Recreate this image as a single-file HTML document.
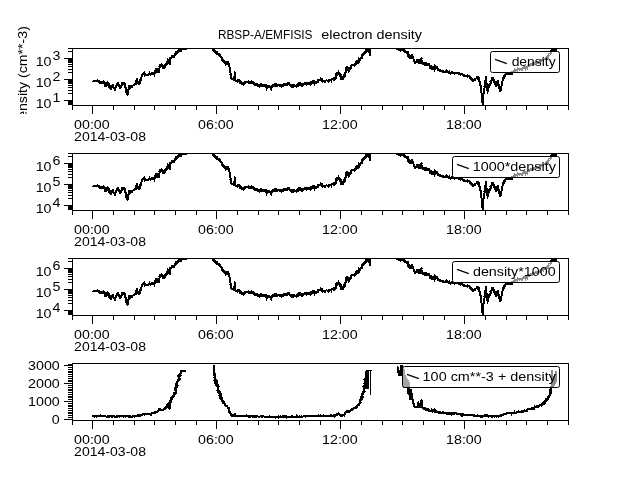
<!DOCTYPE html>
<html><head><meta charset="utf-8"><style>html,body{margin:0;padding:0;background:#fff;width:640px;height:480px;overflow:hidden}svg{display:block;will-change:transform}</style></head>
<body>
<svg width="640" height="480" viewBox="0 0 640 480" shape-rendering="crispEdges">
<rect width="640" height="480" fill="#fff"/>
<defs><clipPath id="c0"><rect x="72" y="48" width="497" height="58"/></clipPath><clipPath id="c1"><rect x="72" y="153" width="497" height="58"/></clipPath><clipPath id="c2"><rect x="72" y="258" width="497" height="58"/></clipPath><clipPath id="c3"><rect x="72" y="363" width="497" height="58"/></clipPath><clipPath id="cl"><rect x="0" y="0" width="60" height="114"/></clipPath></defs>
<text transform="translate(217.95,38.75) scale(0.953,1)" font-family="Liberation Sans, sans-serif" font-size="12.4" text-anchor="start" xml:space="preserve" >RBSP-A/EMFISIS</text>
<text transform="translate(321.32,38.75) scale(1.161,1)" font-family="Liberation Sans, sans-serif" font-size="12.4" text-anchor="start" xml:space="preserve" >electron density</text>
<g clip-path="url(#cl)"><text transform="translate(27.0,126.74) rotate(-90) scale(1.142,1)" font-family="Liberation Sans, sans-serif" font-size="12.4" xml:space="preserve">density (cm**-3)</text></g>
<g clip-path="url(#c0)"><path d="M97.0,80.9v-1.5M103.7,82.7v-2.3M113.0,84.7v2.5M114.2,87.7v2.0M116.5,85.0v2.1M124.8,83.5v2.0M125.7,88.9v2.6M126.1,90.6v-2.7M129.0,87.5v2.4M135.7,82.4v-1.9M136.4,80.6v-2.4M137.2,81.0v-2.9M137.6,82.0v-2.5M138.5,82.9v2.5M139.4,83.5v-2.1M142.6,73.8v3.3M144.0,74.2v-2.8M144.6,73.9v2.8M149.4,73.8v-2.5M154.8,73.5v3.2M164.1,67.6v-3.4M167.2,61.3v-3.0M169.8,59.4v2.7M174.7,55.7v2.6M181.8,48.5v3.1M183.5,48.9v-2.2" stroke="#000" stroke-width="1" fill="none" shape-rendering="crispEdges"/><polyline points="92.40,80.90 92.86,81.07 93.32,81.03 93.78,80.86 94.24,80.78 94.70,80.91 95.16,80.85 95.62,81.04 96.08,80.80 96.54,80.89 97.00,80.90 97.51,80.79 98.00,80.60 98.24,81.56 99.00,81.21 99.50,81.50 99.98,81.64 99.73,82.61 100.12,82.84 100.50,83.10 100.69,82.44 101.56,83.19 101.98,83.03 102.00,82.00 102.63,82.41 103.19,82.44 103.60,81.60 103.99,81.83 103.68,82.68 103.65,83.27 104.08,83.48 104.50,83.69 105.10,83.73 104.89,84.49 104.85,85.09 104.67,85.82 104.78,86.30 105.50,86.25 105.69,85.81 106.33,85.82 105.86,84.73 106.69,84.92 106.61,84.22 106.22,83.21 107.22,83.58 107.08,82.80 107.40,82.50 107.27,83.30 107.67,83.55 108.64,83.22 108.32,84.21 108.13,85.06 109.06,84.78 109.00,85.50 109.45,85.69 109.13,86.77 110.11,86.34 109.98,87.21 110.59,87.21 110.08,88.51 110.52,88.71 111.10,88.75 111.25,88.24 111.04,87.40 111.53,87.21 111.95,86.96 112.65,86.97 111.92,85.63 112.64,85.66 113.02,85.37 113.00,84.70 113.10,85.19 112.94,85.89 113.43,86.06 113.08,86.91 113.67,87.01 113.85,87.43 114.17,87.74 114.15,88.33 114.56,88.56 114.49,89.19 114.99,89.36 114.90,90.00 114.91,89.45 115.06,88.99 115.38,88.67 115.55,88.23 115.62,87.72 115.60,87.14 116.03,86.90 116.22,86.49 116.39,86.05 116.50,85.57 116.50,85.00 117.18,85.06 117.46,84.67 117.29,83.80 117.38,83.20 117.97,83.16 118.00,82.50 118.47,82.67 118.08,83.68 118.26,84.14 118.43,84.61 118.98,84.68 119.30,85.00 118.99,85.90 119.61,85.92 119.96,86.20 119.92,86.84 119.74,87.62 120.50,87.50 121.16,87.49 121.19,86.94 120.53,85.80 121.32,85.91 121.35,85.35 121.69,85.07 122.11,84.86 121.58,83.82 122.32,83.89 121.78,82.84 122.40,82.80 123.01,82.62 123.03,83.81 123.76,83.33 123.85,84.37 124.75,83.49 124.90,84.40 125.14,84.75 124.99,85.34 125.35,85.60 125.21,86.19 125.15,86.73 125.40,87.07 125.42,87.55 125.79,87.81 125.61,88.42 125.71,88.86 125.81,89.29 125.98,89.68 126.07,90.12 126.10,90.60 126.04,91.21 126.58,91.36 126.73,91.81 126.48,92.57 126.95,92.78 127.12,93.21 127.23,93.70 127.13,94.34 127.40,94.70 127.68,94.37 127.38,93.66 127.65,93.31 127.60,92.77 127.76,92.36 127.83,91.89 128.11,91.56 128.08,91.02 128.09,90.52 128.33,90.15 128.22,89.57 128.34,89.13 128.81,88.92 128.57,88.25 128.73,87.84 128.98,87.48 129.12,87.06 129.25,86.63 129.01,85.96 129.25,85.60 129.26,86.21 129.14,86.95 130.37,86.36 129.88,87.46 129.90,88.06 130.50,88.10 130.72,87.52 130.99,87.03 131.66,87.17 131.88,86.59 132.00,85.85 132.62,85.92 133.00,85.60 133.37,85.25 133.87,85.32 134.25,85.01 134.56,84.48 135.01,84.36 135.50,84.40 135.76,84.02 135.62,83.38 135.86,82.99 135.74,82.36 136.17,82.10 136.10,81.50 136.09,80.94 136.40,80.60 136.88,80.71 137.17,81.05 136.67,82.31 137.56,81.95 137.87,82.26 137.90,82.90 138.47,82.86 138.69,84.06 139.40,83.50 139.72,83.16 139.87,82.68 140.14,82.30 139.89,81.49 140.09,81.06 140.59,80.86 139.81,79.64 140.70,79.75 140.65,79.17 140.84,78.75 140.90,78.25 141.22,77.92 141.20,77.36 141.57,77.07 141.52,76.49 141.60,76.00 141.68,75.45 141.86,74.99 142.48,74.94 142.29,74.13 142.60,73.80 142.99,74.30 143.76,73.16 144.03,74.16 144.59,73.92 145.10,73.87 145.40,74.75 145.92,74.75 146.43,74.61 146.96,74.71 147.51,75.08 148.05,75.30 148.50,74.40 149.00,74.27 149.43,73.75 149.99,73.97 150.61,74.59 151.00,73.80 151.70,74.41 152.16,74.10 152.34,72.60 153.26,74.13 153.50,72.90 153.83,73.37 154.61,72.45 154.75,73.50 154.99,73.15 155.25,72.80 155.07,72.14 155.34,71.81 155.28,71.23 155.35,70.75 155.74,70.50 155.49,69.79 156.04,69.66 156.00,69.10 156.23,69.56 157.06,69.33 157.29,69.78 156.87,70.99 156.85,71.74 157.60,71.60 157.76,70.89 158.81,71.89 158.34,69.96 159.10,70.40 159.34,70.03 159.15,69.43 159.04,68.87 159.20,68.45 159.35,68.03 159.58,67.66 159.67,67.21 159.34,66.53 159.60,66.17 159.72,65.74 159.61,65.18 159.75,64.75 160.05,65.72 160.87,64.66 161.51,64.31 162.00,64.55 162.25,65.70 162.42,66.39 162.93,66.56 162.87,67.61 163.25,67.98 164.10,67.60 164.89,67.66 163.89,66.06 165.10,66.50 165.25,65.96 165.40,65.43 165.40,64.75 165.97,64.67 166.52,64.55 166.50,63.72 166.48,62.88 166.99,62.73 167.25,62.25 167.19,61.34 167.99,61.46 167.56,60.11 168.50,60.40 169.17,60.46 169.06,61.13 168.55,62.12 168.81,62.50 169.52,62.53 169.26,63.31 170.26,63.11 169.75,64.10 169.59,63.55 170.05,63.30 169.70,62.65 169.78,62.22 169.89,61.79 169.78,61.27 169.90,60.85 169.79,60.32 169.71,59.81 169.80,59.38 170.00,59.00 170.42,58.70 170.37,57.53 171.10,57.80 171.43,57.33 172.00,57.30 172.31,56.79 172.39,55.86 173.62,56.96 173.57,55.81 174.00,55.50 174.70,55.70 175.14,55.56 174.67,54.17 175.12,54.04 175.67,54.04 175.63,53.24 176.00,53.00 176.16,52.28 177.01,52.66 177.55,52.56 177.50,51.50 178.25,52.08 178.43,51.25 178.65,50.50 179.54,51.44 179.69,50.53 180.00,50.00 180.33,48.93 180.84,48.84 181.60,50.14 181.83,48.52 182.30,48.28 183.00,49.20 183.48,48.91 184.00,49.13 184.49,48.92 185.00,48.95 185.51,49.10 186.03,49.25 186.50,48.80 186.60,48.33 186.70,47.88 187.16,47.68 186.92,46.96 187.32,46.73 187.28,46.15 187.38,45.69 187.37,45.14 187.91,45.02 187.97,44.52 188.00,44.00" fill="none" stroke="#000" stroke-width="2" stroke-linejoin="round" shape-rendering="crispEdges"/><path d="M220.5,56.5v-2.4M221.3,57.0v2.7M221.9,58.3v2.1M225.4,63.8v2.0M229.9,70.5v-2.2M231.0,75.9v-2.6M234.4,77.6v2.4M234.9,76.5v-2.2M237.2,80.4v2.6M248.8,82.1v-2.3M254.8,84.8v-2.9M257.1,85.7v-2.5M261.3,86.0v-2.5M266.2,87.3v3.3M270.5,87.1v3.0M271.5,87.2v3.3M271.6,86.4v2.1M280.8,86.3v-2.8M281.1,84.9v3.0M292.1,87.0v-3.1M292.1,85.9v-2.4M301.0,84.4v2.5M310.9,83.9v2.2M314.8,83.2v2.3M320.3,79.7v-2.6M328.9,80.0v2.9M331.2,80.3v3.1M336.0,76.3v2.3M338.6,72.9v-2.7M341.5,76.0v-2.5M345.1,73.9v2.9M348.6,71.1v2.2M358.5,60.3v-3.5M359.7,60.5v2.6M364.2,54.6v-3.3M368.5,49.5v3.4" stroke="#000" stroke-width="1" fill="none" shape-rendering="crispEdges"/><polyline points="210.00,44.00 210.64,43.99 210.09,45.24 210.42,45.56 211.21,45.39 211.19,46.09 211.47,46.45 211.49,47.10 211.57,47.68 212.57,47.29 212.88,47.63 212.60,48.60 212.60,49.43 213.31,49.24 213.32,50.06 214.36,49.38 214.26,50.36 214.32,51.10 215.11,50.79 214.76,52.14 215.50,51.90 215.53,52.80 216.59,51.79 216.96,52.09 216.90,53.16 216.93,54.06 217.74,53.52 218.00,54.00 218.61,53.95 218.78,54.60 219.49,54.40 219.68,55.03 219.84,55.70 220.15,56.14 220.50,56.50 221.03,56.61 221.26,57.02 221.51,57.43 221.48,58.12 221.90,58.34 222.43,58.45 221.76,59.81 222.30,59.90 222.60,60.25 222.91,60.80 223.68,60.43 223.48,61.99 224.00,62.12 224.70,61.90 225.35,61.88 225.36,62.55 225.18,63.42 225.43,63.83 225.90,64.00 226.63,64.11 226.34,63.07 227.03,63.14 227.12,62.52 227.20,61.90 227.72,62.06 227.75,62.85 227.78,63.66 228.13,64.03 228.80,64.00 228.90,64.47 228.96,64.96 229.30,65.27 229.31,65.79 229.17,66.42 229.44,66.78 229.64,67.17 229.58,67.75 229.70,68.20 229.66,68.70 229.71,69.15 229.89,69.54 229.90,70.01 229.92,70.48 229.84,71.00 230.00,71.39 230.10,71.82 230.10,72.30 230.19,72.76 230.48,73.11 230.56,73.58 230.37,74.22 230.34,74.76 230.59,75.13 230.77,75.54 230.95,75.94 230.90,76.50 231.11,76.92 230.79,77.87 231.25,78.05 231.72,78.21 231.58,78.99 232.20,79.00 232.88,78.82 233.26,79.56 233.80,79.80 234.50,79.50 234.76,79.16 234.57,78.62 234.52,78.14 234.43,77.64 234.59,77.26 234.82,76.91 234.32,76.23 234.75,75.97 234.79,75.53 234.83,75.09 234.77,74.61 234.82,74.18 234.67,73.65 234.71,73.22 234.65,72.73 234.70,72.30 234.96,72.65 234.55,73.33 234.74,73.72 234.96,74.10 234.82,74.64 234.86,75.11 234.95,75.54 234.98,76.01 234.90,76.53 234.88,77.02 234.91,77.49 235.02,77.91 235.28,78.27 235.20,78.79 235.25,79.25 235.10,79.80 235.59,80.13 236.00,80.87 236.55,80.89 237.20,80.40 237.75,80.97 238.23,80.94 238.57,79.64 239.10,80.10 238.87,81.01 239.34,81.22 240.38,80.83 240.70,81.18 240.94,81.61 240.18,83.08 241.10,82.81 241.00,83.60 241.70,82.96 241.93,84.22 242.58,83.81 243.22,83.41 243.50,84.50 243.40,83.54 244.17,83.71 244.04,82.72 244.49,82.47 245.34,82.75 245.40,82.00 245.86,82.05 246.37,81.91 246.74,82.37 247.40,81.56 247.67,82.47 248.09,82.69 248.50,83.00 248.82,82.15 249.28,81.78 250.23,83.24 250.51,82.22 251.00,82.00 251.61,81.53 251.90,82.52 252.28,83.12 252.90,82.60 253.77,82.18 254.08,82.54 254.24,83.12 253.88,84.43 254.84,83.87 254.75,84.80 255.29,85.19 255.78,85.07 256.26,84.72 256.70,83.95 257.25,84.50 257.12,85.68 257.66,85.67 258.30,85.47 258.96,85.25 258.88,86.34 259.50,86.19 259.75,86.70 260.10,86.37 260.01,85.57 260.68,85.57 260.16,84.31 261.00,84.50 261.57,84.42 261.31,85.97 261.78,86.10 262.70,85.34 262.90,86.00 263.62,86.37 263.46,85.05 264.44,85.92 264.62,85.25 264.75,84.50 265.16,84.75 265.67,84.87 266.28,84.86 265.55,86.67 266.87,85.69 266.24,87.34 266.38,87.96 267.25,87.60 267.69,87.41 267.66,86.36 268.73,87.31 269.21,87.18 269.10,86.00 269.19,86.68 269.72,86.68 270.19,86.79 270.54,87.07 271.01,87.16 271.00,88.00 271.52,87.93 271.55,87.16 271.58,86.40 271.79,85.89 272.76,86.46 272.64,85.49 273.19,85.46 273.50,85.10 273.97,84.66 274.57,85.79 275.07,85.79 275.41,83.81 276.00,84.80 276.54,84.21 276.98,84.56 277.31,86.06 277.83,85.68 278.40,84.78 278.90,84.57 279.27,85.65 279.71,86.07 280.25,85.40 280.78,86.29 281.13,84.95 281.68,86.07 282.10,85.59 282.52,85.09 283.07,86.14 283.38,84.44 283.93,85.46 284.26,84.00 284.73,84.13 285.25,84.80 285.91,85.48 285.91,83.86 286.65,84.82 286.98,84.32 287.53,84.65 287.67,83.49 288.07,83.26 288.46,82.99 289.00,83.25 288.89,84.23 289.51,84.14 289.43,85.09 289.82,85.33 291.00,84.43 290.90,85.40 291.14,85.88 291.99,85.57 292.37,85.87 292.10,87.00 292.12,85.88 293.27,87.06 293.62,86.59 294.07,86.35 294.04,85.12 294.60,85.10 294.87,85.63 295.08,86.26 295.86,85.84 296.05,86.51 296.50,86.70 296.43,85.88 296.53,85.28 297.04,85.19 298.10,85.78 297.97,84.88 298.70,85.06 298.39,83.95 298.44,83.28 299.00,83.25 298.99,84.09 299.26,84.52 300.51,83.51 300.07,84.97 301.05,84.36 300.90,85.40 301.01,84.39 302.04,85.66 301.79,83.74 302.36,83.88 303.37,85.12 303.40,83.90 303.93,83.85 304.54,83.31 305.02,83.54 305.49,83.82 305.90,84.50 306.54,84.54 306.20,83.05 307.46,84.07 307.25,82.77 307.75,82.60 307.73,83.80 308.20,84.01 309.19,83.16 309.65,83.40 309.85,84.14 310.25,84.50 309.95,83.53 310.91,83.95 310.33,82.67 310.53,82.24 312.04,83.26 311.37,81.88 312.00,81.93 312.10,81.40 312.60,81.41 313.13,81.24 313.70,80.82 313.87,82.77 314.50,82.00 314.76,83.15 315.23,83.30 316.11,81.62 316.40,82.60 316.36,81.73 317.16,81.95 317.92,82.11 317.69,81.00 318.17,80.81 318.25,80.10 318.77,80.46 319.30,79.57 319.82,80.19 320.35,79.68 320.88,79.54 321.40,80.10 322.04,79.35 322.39,79.92 322.50,81.56 323.20,80.56 323.54,81.14 323.99,81.26 324.50,81.10 325.09,82.01 325.51,80.74 326.02,80.50 326.54,80.49 327.05,80.41 327.60,80.75 328.16,81.41 328.62,81.42 328.89,80.04 329.35,80.02 329.86,80.38 330.32,80.36 330.75,80.10 331.21,80.27 331.61,79.46 332.03,78.92 332.51,79.37 332.94,78.95 333.46,79.96 333.90,79.80 333.65,78.70 333.96,78.27 334.97,78.69 334.83,77.72 335.40,77.60 335.68,77.25 335.65,76.67 335.96,76.35 335.72,75.62 336.03,75.29 336.32,74.94 336.03,74.19 336.40,73.90 337.15,74.71 337.05,72.76 337.91,73.92 338.50,74.19 338.60,72.90 338.48,73.85 339.44,73.34 340.02,73.35 339.78,74.45 340.10,74.80 339.69,75.86 340.85,75.38 340.17,76.70 341.52,76.03 340.58,77.60 342.12,76.75 341.92,77.61 341.25,78.91 341.62,79.21 342.30,79.20 343.14,79.45 343.32,78.92 343.45,78.35 343.63,77.84 343.18,76.59 343.90,76.70 344.00,76.14 343.77,75.29 344.83,75.60 344.96,75.07 344.52,74.02 345.10,73.90 344.92,73.29 345.52,73.14 345.51,72.62 345.44,72.07 345.51,71.61 345.77,71.25 345.61,70.65 345.65,70.17 345.70,69.69 345.73,69.20 345.67,68.66 346.11,68.41 346.10,67.90 346.42,67.43 346.97,67.45 347.30,67.00 347.69,67.27 347.67,67.85 347.94,68.21 348.09,68.66 348.16,69.17 347.98,69.87 348.37,70.14 348.51,70.60 348.60,71.10 349.06,70.85 348.83,69.78 348.82,68.96 349.84,69.39 350.10,68.90 350.27,68.44 350.66,68.18 350.50,67.45 351.05,67.31 351.29,66.91 350.67,65.82 351.25,65.70 351.71,65.53 352.17,65.34 352.49,64.59 353.06,64.87 353.60,65.05 354.25,65.70 354.50,64.60 355.33,65.13 355.03,63.52 355.81,63.95 355.56,62.43 355.97,62.16 356.83,62.74 357.20,62.40 357.98,62.73 357.36,61.07 358.44,61.81 358.89,61.67 358.46,60.28 359.25,60.61 359.75,60.54 359.44,59.32 359.90,59.20 360.46,59.12 360.78,58.77 360.86,58.12 361.50,58.14 361.83,57.79 362.19,57.49 361.92,56.43 362.10,55.90 362.07,54.92 362.52,54.71 362.84,54.29 363.62,54.60 364.20,54.60 364.25,53.75 363.96,52.57 365.10,53.28 365.46,52.95 365.28,51.91 365.81,51.81 365.65,50.80 366.40,51.00 366.99,51.12 366.49,49.48 367.93,50.96 368.05,50.31 368.00,49.40 368.54,49.53 368.80,48.53 369.40,48.90 369.22,49.50 369.25,49.98 369.78,50.18 369.47,50.85 369.49,51.33 369.65,51.74 369.68,52.21 369.89,52.60 369.67,53.22 369.70,53.70 370.10,53.97 369.91,54.57 370.18,54.91 370.20,55.40 370.16,54.91 370.21,54.47 370.20,54.00 370.36,53.61 370.39,53.15 370.26,52.63 370.37,52.21 370.36,51.74 370.33,51.25 370.38,50.81 370.39,50.35 370.50,49.94 370.39,49.42 370.50,49.00 370.58,48.51 370.76,48.08 370.83,47.58 371.07,47.20 371.20,46.74 371.37,46.32 371.40,45.78 371.55,45.34 371.73,44.91 371.83,44.43 372.00,44.00" fill="none" stroke="#000" stroke-width="2" stroke-linejoin="round" shape-rendering="crispEdges"/><path d="M396.9,47.5v-3.1M422.6,62.4v2.7M434.1,69.1v3.2M434.9,67.0v-3.1M446.5,71.7v-2.5M447.0,71.7v-2.2M449.2,72.7v-2.3M460.8,73.8v2.0M467.4,75.4v2.3M477.7,77.5v2.3M478.7,77.2v2.3M487.3,90.0v-2.6M487.7,91.8v2.5M487.8,90.4v-2.5M489.6,84.1v2.6M493.0,78.6v2.8M494.1,81.0v-1.9M514.3,71.0v-2.7M517.1,70.6v2.4M517.1,69.3v-2.4M522.5,68.5v2.2M525.5,68.4v2.9M525.5,66.6v2.6M527.3,67.6v2.7M543.9,59.2v2.6M547.5,57.2v-2.6M548.2,56.6v2.5M548.0,55.7v-3.0" stroke="#000" stroke-width="1" fill="none" shape-rendering="crispEdges"/><polyline points="396.00,44.00 395.82,44.64 395.92,45.08 396.58,45.17 396.66,45.63 396.29,46.39 396.45,46.80 396.59,47.22 396.92,47.52 396.83,48.09 397.00,48.50 397.24,49.10 397.65,49.42 398.56,48.92 398.50,50.00 398.99,49.78 399.48,49.64 400.03,50.46 400.57,51.12 401.00,49.80 402.01,50.39 402.00,49.00 402.25,49.48 402.70,49.70 403.27,49.76 403.25,50.60 404.21,50.07 404.54,50.43 404.24,51.66 404.50,52.10 404.92,51.52 405.45,51.55 406.17,52.74 406.51,51.69 407.00,51.50 407.08,52.03 407.80,52.00 408.34,52.13 408.01,53.02 408.51,53.18 408.05,54.17 408.25,54.60 407.74,55.87 408.48,55.67 409.48,55.17 408.65,56.82 409.50,56.50 409.30,57.41 409.64,57.68 409.63,58.36 410.10,58.49 410.75,58.40 411.42,58.37 410.86,57.29 412.10,57.75 412.25,57.27 411.07,55.66 412.25,56.07 412.00,55.25 411.86,56.01 412.48,56.02 412.58,56.55 412.85,56.90 412.35,58.01 413.25,57.75 413.38,58.25 413.31,58.89 413.73,59.19 413.53,59.92 413.90,60.25 413.62,61.41 414.57,61.01 414.73,61.63 414.52,62.70 415.11,62.75 415.75,62.75 416.09,62.37 416.11,61.46 416.60,61.32 417.44,61.73 417.11,60.27 418.42,61.45 418.25,60.25 418.90,60.23 418.26,61.85 419.45,61.15 418.81,62.77 419.49,62.72 420.10,62.75 420.23,62.32 420.37,61.89 420.58,61.51 420.67,61.05 420.64,60.49 420.70,60.01 421.02,59.71 421.40,59.47 421.35,58.89 421.40,58.40 421.73,58.73 421.33,59.48 421.46,59.93 421.41,60.48 421.93,60.71 421.65,61.39 422.15,61.62 421.84,62.32 422.00,62.75 422.60,62.41 423.06,62.51 422.94,64.28 423.99,62.64 424.07,63.85 424.50,64.00 425.00,64.92 425.50,63.34 426.00,63.25 426.50,64.99 427.00,64.00 427.50,64.14 427.59,65.12 428.77,63.91 428.82,64.96 429.44,64.85 429.50,65.90 429.55,66.62 430.71,65.92 429.74,67.95 431.39,66.61 431.00,67.90 431.29,68.64 432.20,67.06 432.49,67.81 432.57,69.36 433.44,67.91 433.86,68.15 434.10,69.10 434.31,68.73 434.21,68.17 434.09,67.59 434.78,67.53 434.35,66.74 434.37,66.26 434.75,66.00 434.97,66.43 434.93,67.05 434.98,67.60 435.49,67.83 435.48,68.43 435.50,69.00 434.94,67.80 435.86,67.96 436.60,67.97 436.78,67.45 436.60,66.60 436.16,67.66 436.77,67.70 436.87,68.22 437.24,68.49 437.68,68.68 438.14,68.86 437.92,69.71 438.47,69.80 438.50,70.40 439.10,69.93 439.46,70.62 439.78,71.43 440.50,70.42 440.81,71.28 441.35,71.13 441.78,71.47 442.25,71.60 442.79,71.12 443.10,72.49 443.70,71.46 444.10,72.09 444.61,71.88 445.15,71.32 445.52,72.26 446.00,72.25 446.51,71.74 446.97,71.66 447.43,71.69 447.87,71.95 448.33,71.90 448.71,72.82 449.18,72.68 449.57,73.49 450.03,73.47 450.47,73.63 451.00,72.90 451.50,72.47 452.00,72.81 452.50,72.50 453.00,72.90 453.44,73.10 453.89,73.21 454.32,73.54 454.79,73.45 455.31,72.79 455.74,73.10 456.18,73.32 456.70,72.55 457.15,72.65 457.56,73.30 458.00,73.50 458.56,73.00 458.85,74.08 459.43,73.43 459.93,73.33 460.36,73.57 460.80,73.76 461.26,73.85 461.63,74.44 462.10,74.47 462.60,74.34 463.00,74.75 463.35,75.19 464.01,74.80 464.07,76.05 464.46,76.37 465.02,76.26 465.61,76.07 466.00,76.40 466.50,76.34 467.01,76.37 467.42,75.45 467.99,75.95 468.50,76.00 468.84,76.33 469.44,76.17 469.86,76.36 469.71,77.60 470.38,77.32 470.63,77.83 471.00,78.10 470.95,78.97 471.53,78.96 472.12,78.93 471.84,80.14 472.67,79.76 473.28,79.69 473.03,80.86 473.50,81.00 473.54,80.14 474.06,80.04 474.84,80.36 475.07,79.79 474.90,78.60 475.60,78.80 476.00,78.50 476.36,78.09 476.82,77.91 477.07,77.24 477.72,77.49 477.81,76.48 478.50,76.80 478.68,77.20 478.74,77.68 478.62,78.27 479.05,78.51 478.88,79.13 479.19,79.45 479.15,79.99 479.31,80.40 479.38,80.88 479.36,81.40 479.60,81.77 479.80,82.15 479.75,82.70 480.01,83.06 480.14,83.50 479.96,84.16 480.15,84.56 480.14,85.09 480.36,85.48 480.73,85.76 480.60,86.38 480.67,86.86 480.80,87.30 481.00,87.70 481.04,88.15 481.14,88.58 481.14,89.06 481.04,89.58 481.29,89.93 481.23,90.43 481.29,90.88 481.15,91.43 481.24,91.86 481.23,92.34 481.31,92.77 481.56,93.12 481.63,93.56 481.57,94.07 481.70,94.47 481.67,94.96 481.62,95.47 481.56,95.97 481.73,96.36 481.68,96.86 482.00,97.17 481.94,97.68 481.73,98.26 482.11,98.54 482.04,99.05 482.22,99.44 482.25,99.90 481.97,100.52 481.98,100.99 482.15,101.38 482.25,101.80 482.48,102.21 482.51,102.75 482.62,103.24 482.54,103.84 482.70,104.30 482.81,103.88 482.76,103.38 482.83,102.94 482.71,102.40 482.92,102.03 483.12,101.66 483.08,101.17 482.86,100.58 483.07,100.21 483.18,99.79 483.05,99.25 483.33,98.92 483.20,98.38 483.34,97.97 483.26,97.46 483.53,97.12 483.49,96.62 483.45,96.12 483.32,95.58 483.50,95.20 483.53,94.73 483.43,94.19 483.71,93.86 483.88,93.46 483.66,92.86 483.84,92.47 483.89,92.01 483.92,91.54 484.09,91.15 484.24,90.75 484.20,90.24 484.17,89.74 484.42,89.39 484.23,88.80 484.45,88.44 484.47,87.96 484.57,87.53 484.66,87.09 484.47,86.50 484.68,86.14 484.66,85.63 484.75,85.20 484.88,84.77 485.07,84.38 485.00,83.84 484.82,83.24 485.07,82.88 485.23,82.47 485.36,82.04 485.33,81.53 485.46,81.10 485.22,80.46 485.65,80.20 485.63,79.69 485.65,79.20 485.83,78.81 485.89,78.34 485.65,77.70 485.99,77.40 486.04,76.92 486.00,76.40 486.15,76.79 485.96,77.35 486.05,77.77 486.23,78.14 486.02,78.71 486.31,79.03 486.16,79.57 486.25,79.99 486.35,80.40 486.26,80.91 486.33,81.34 486.46,81.74 486.19,82.34 486.40,82.70 486.63,83.06 486.72,83.50 486.60,84.06 486.53,84.60 486.66,85.01 486.69,85.49 486.86,85.88 486.85,86.38 487.05,86.76 487.14,87.20 487.11,87.71 487.36,88.05 487.41,88.52 487.21,89.13 487.50,89.45 487.34,90.04 487.39,90.50 487.61,90.87 487.57,91.38 487.70,91.80 487.88,91.41 487.99,90.97 487.78,90.35 487.86,89.90 488.02,89.50 488.12,89.06 488.13,88.57 488.09,88.05 488.38,87.72 488.61,87.36 488.50,86.80 488.58,86.25 488.96,86.01 489.02,85.45 489.29,85.09 489.93,85.11 489.58,84.13 490.14,84.06 490.20,83.50 490.36,83.07 490.60,82.71 491.16,82.64 490.48,81.45 491.43,81.73 491.07,80.83 491.60,80.74 491.93,80.46 491.96,79.91 491.88,79.26 492.51,79.26 491.92,78.15 492.66,78.24 492.70,77.70 492.98,78.02 493.01,78.56 492.85,79.27 493.07,79.64 493.42,79.90 493.92,80.03 494.17,80.37 494.11,80.99 494.52,81.21 494.64,81.67 494.10,82.70 494.75,82.70 495.33,82.83 494.77,83.92 495.41,84.01 495.61,84.47 495.83,84.90 496.26,85.16 496.00,86.00 496.11,85.51 495.96,84.81 496.40,84.59 496.40,84.01 497.19,84.06 497.37,83.63 497.02,82.77 497.38,82.48 497.85,82.27 497.36,81.31 497.70,81.00 497.95,81.35 497.99,81.83 498.10,82.26 498.00,82.83 498.21,83.20 498.31,83.64 498.23,84.20 498.54,84.50 498.41,85.09 498.57,85.49 498.75,85.88 498.68,86.43 498.90,86.80 499.10,87.22 499.05,87.84 499.17,88.32 499.48,88.67 499.55,89.19 499.60,89.73 499.82,90.14 499.96,90.60 500.20,91.00 500.45,90.64 500.58,90.20 500.62,89.70 500.82,89.31 500.67,88.67 500.90,88.30 501.03,87.86 501.02,87.33 501.14,86.88 501.17,86.37 501.40,86.00 501.66,85.66 501.52,85.07 501.65,84.65 501.90,84.31 501.71,83.69 502.10,83.43 501.86,82.78 501.91,82.31 502.12,81.94 502.21,81.50 502.51,81.19 502.59,80.73 502.63,80.26 502.59,79.73 502.70,79.30 502.99,78.94 502.95,78.20 503.77,78.42 503.59,77.54 503.74,77.02 504.33,76.99 504.12,76.06 504.52,75.82 505.36,76.06 505.20,75.20 505.41,74.39 505.85,74.24 506.30,74.11 506.74,73.97 507.24,74.00 507.70,73.90 508.21,73.56 508.66,73.76 509.15,73.67 509.62,73.71 510.04,74.36 510.55,73.98 511.00,74.30 511.17,73.74 511.81,73.76 511.44,72.56 511.72,72.14 512.82,72.70 512.70,71.80 513.06,71.46 513.69,71.90 513.69,70.50 514.35,71.01 514.96,71.40 515.04,70.25 515.72,70.84 516.03,70.34 516.30,69.74 517.09,70.64 517.12,69.32 517.58,69.26 518.00,69.10 518.47,69.28 518.87,68.62 519.41,69.59 519.82,69.05 520.27,68.97 520.71,68.82 521.24,69.64 521.69,69.59 522.11,69.24 522.50,68.50 522.93,68.24 523.37,67.99 523.88,68.03 524.09,66.94 524.58,66.89 525.47,68.41 525.50,66.58 526.35,67.95 526.68,67.29 527.25,67.57 527.50,66.60 527.65,65.61 528.21,65.82 528.94,66.53 528.86,64.86 529.34,64.83 529.91,65.07 530.21,64.54 530.61,64.28 531.36,65.04 531.41,63.76 532.38,65.18 532.50,64.10 533.03,64.22 533.19,62.90 534.06,64.36 534.19,62.93 534.76,63.22 535.26,63.20 535.51,62.23 536.14,62.76 536.38,61.75 536.90,61.84 537.50,62.25 538.16,62.88 538.57,62.53 538.87,61.79 539.41,61.93 539.96,62.13 540.05,60.55 540.68,61.06 540.96,60.20 541.40,60.00 541.86,59.82 542.50,60.40 542.67,59.64 542.94,59.12 543.44,59.16 543.95,59.22 544.51,59.41 545.08,59.59 545.49,59.43 545.74,58.85 545.97,58.23 546.66,58.72 546.48,57.13 546.82,56.79 547.50,57.25 548.15,57.31 548.22,56.65 548.03,55.66 548.50,55.50 548.70,55.00 549.14,54.79 549.50,54.50 549.63,53.99 549.81,53.54 550.52,53.62 550.75,53.22 550.66,52.49 550.80,52.00 550.96,51.47 550.92,50.76 551.74,50.80 551.60,50.00 552.06,50.48 552.71,50.24 553.20,50.60 553.68,50.51 554.13,50.31 554.58,50.09 555.00,49.80 555.54,49.62 556.00,50.03 556.52,49.92 557.00,50.20" fill="none" stroke="#000" stroke-width="2" stroke-linejoin="round" shape-rendering="crispEdges"/></g>
<rect x="72" y="48" width="497" height="1" fill="#000"/>
<rect x="72" y="105" width="497" height="1" fill="#000"/>
<rect x="72" y="48" width="1" height="58" fill="#000"/>
<rect x="568" y="48" width="1" height="58" fill="#000"/>
<rect x="72" y="106" width="1" height="4" fill="#000"/>
<rect x="92" y="106" width="1" height="8" fill="#000"/>
<rect x="113" y="106" width="1" height="4" fill="#000"/>
<rect x="134" y="106" width="1" height="4" fill="#000"/>
<rect x="154" y="106" width="1" height="4" fill="#000"/>
<rect x="175" y="106" width="1" height="4" fill="#000"/>
<rect x="196" y="106" width="1" height="4" fill="#000"/>
<rect x="216" y="106" width="1" height="8" fill="#000"/>
<rect x="237" y="106" width="1" height="4" fill="#000"/>
<rect x="258" y="106" width="1" height="4" fill="#000"/>
<rect x="278" y="106" width="1" height="4" fill="#000"/>
<rect x="299" y="106" width="1" height="4" fill="#000"/>
<rect x="320" y="106" width="1" height="4" fill="#000"/>
<rect x="340" y="106" width="1" height="8" fill="#000"/>
<rect x="361" y="106" width="1" height="4" fill="#000"/>
<rect x="382" y="106" width="1" height="4" fill="#000"/>
<rect x="402" y="106" width="1" height="4" fill="#000"/>
<rect x="423" y="106" width="1" height="4" fill="#000"/>
<rect x="444" y="106" width="1" height="4" fill="#000"/>
<rect x="464" y="106" width="1" height="8" fill="#000"/>
<rect x="485" y="106" width="1" height="4" fill="#000"/>
<rect x="506" y="106" width="1" height="4" fill="#000"/>
<rect x="526" y="106" width="1" height="4" fill="#000"/>
<rect x="547" y="106" width="1" height="4" fill="#000"/>
<rect x="568" y="106" width="1" height="4" fill="#000"/>
<text transform="translate(91.87,128.80) scale(1.15,1)" font-family="Liberation Sans, sans-serif" font-size="12.4" text-anchor="middle" xml:space="preserve" >00:00</text>
<text transform="translate(215.87,128.80) scale(1.15,1)" font-family="Liberation Sans, sans-serif" font-size="12.4" text-anchor="middle" xml:space="preserve" >06:00</text>
<text transform="translate(339.87,128.80) scale(1.15,1)" font-family="Liberation Sans, sans-serif" font-size="12.4" text-anchor="middle" xml:space="preserve" >12:00</text>
<text transform="translate(463.87,128.80) scale(1.15,1)" font-family="Liberation Sans, sans-serif" font-size="12.4" text-anchor="middle" xml:space="preserve" >18:00</text>
<text transform="translate(74.10,140.90) scale(1.133,1)" font-family="Liberation Sans, sans-serif" font-size="12.4" text-anchor="start" xml:space="preserve" >2014-03-08</text>
<rect x="64" y="58" width="8" height="1" fill="#000"/>
<rect x="68" y="51" width="4" height="1" fill="#000"/>
<rect x="68" y="48" width="4" height="1" fill="#000"/>
<text transform="translate(35.66,66.00) scale(1.15,1)" font-family="Liberation Sans, sans-serif" font-size="12.4" text-anchor="start" xml:space="preserve" >10</text>
<text transform="translate(52.43,60.00) scale(1.15,1)" font-family="Liberation Sans, sans-serif" font-size="12.4" text-anchor="start" xml:space="preserve" >3</text>
<rect x="64" y="79" width="8" height="1" fill="#000"/>
<rect x="68" y="72" width="4" height="1" fill="#000"/>
<rect x="68" y="69" width="4" height="1" fill="#000"/>
<rect x="68" y="66" width="4" height="1" fill="#000"/>
<rect x="68" y="64" width="4" height="1" fill="#000"/>
<rect x="68" y="62" width="4" height="1" fill="#000"/>
<rect x="68" y="61" width="4" height="1" fill="#000"/>
<rect x="68" y="60" width="4" height="1" fill="#000"/>
<rect x="68" y="59" width="4" height="1" fill="#000"/>
<text transform="translate(35.66,87.00) scale(1.15,1)" font-family="Liberation Sans, sans-serif" font-size="12.4" text-anchor="start" xml:space="preserve" >10</text>
<text transform="translate(52.43,81.00) scale(1.15,1)" font-family="Liberation Sans, sans-serif" font-size="12.4" text-anchor="start" xml:space="preserve" >2</text>
<rect x="64" y="100" width="8" height="1" fill="#000"/>
<rect x="68" y="93" width="4" height="1" fill="#000"/>
<rect x="68" y="90" width="4" height="1" fill="#000"/>
<rect x="68" y="87" width="4" height="1" fill="#000"/>
<rect x="68" y="85" width="4" height="1" fill="#000"/>
<rect x="68" y="83" width="4" height="1" fill="#000"/>
<rect x="68" y="82" width="4" height="1" fill="#000"/>
<rect x="68" y="81" width="4" height="1" fill="#000"/>
<rect x="68" y="80" width="4" height="1" fill="#000"/>
<text transform="translate(35.66,108.00) scale(1.15,1)" font-family="Liberation Sans, sans-serif" font-size="12.4" text-anchor="start" xml:space="preserve" >10</text>
<text transform="translate(52.43,102.00) scale(1.15,1)" font-family="Liberation Sans, sans-serif" font-size="12.4" text-anchor="start" xml:space="preserve" >1</text>
<rect x="68" y="104" width="4" height="1" fill="#000"/>
<rect x="68" y="103" width="4" height="1" fill="#000"/>
<rect x="68" y="102" width="4" height="1" fill="#000"/>
<rect x="68" y="101" width="4" height="1" fill="#000"/>
<rect x="490.5" y="51.5" width="69" height="21" rx="2" fill="#fff" fill-opacity="0.55" stroke="#000" stroke-width="1" shape-rendering="geometricPrecision"/>
<line x1="495" y1="59.4" x2="506.8" y2="63.6" stroke="#000" stroke-width="1.25" shape-rendering="geometricPrecision"/>
<text transform="translate(511.64,65.80) scale(1.1218,1)" font-family="Liberation Sans, sans-serif" font-size="12.4" text-anchor="start" xml:space="preserve" >density</text>
<g clip-path="url(#c1)"><path d="M97.0,185.9v-1.5M103.7,187.7v-2.3M113.0,189.7v2.5M114.2,192.7v2.0M116.5,190.0v2.1M124.8,188.5v2.0M125.7,193.9v2.6M126.1,195.6v-2.7M129.0,192.5v2.4M135.7,187.4v-1.9M136.4,185.6v-2.4M137.2,186.0v-2.9M137.6,187.0v-2.5M138.5,187.9v2.5M139.4,188.5v-2.1M142.6,178.8v3.3M144.0,179.2v-2.8M144.6,178.9v2.8M149.4,178.8v-2.5M154.8,178.5v3.2M164.1,172.6v-3.4M167.2,166.3v-3.0M169.8,164.4v2.7M174.7,160.7v2.6M181.8,153.5v3.1M183.5,153.9v-2.2" stroke="#000" stroke-width="1" fill="none" shape-rendering="crispEdges"/><polyline points="92.40,185.90 92.86,186.07 93.32,186.03 93.78,185.86 94.24,185.78 94.70,185.91 95.16,185.85 95.62,186.04 96.08,185.80 96.54,185.89 97.00,185.90 97.51,185.79 98.00,185.60 98.24,186.56 99.00,186.21 99.50,186.50 99.98,186.64 99.73,187.61 100.12,187.84 100.50,188.10 100.69,187.44 101.56,188.19 101.98,188.03 102.00,187.00 102.63,187.41 103.19,187.44 103.60,186.60 103.99,186.83 103.68,187.68 103.65,188.27 104.08,188.48 104.50,188.69 105.10,188.73 104.89,189.49 104.85,190.09 104.67,190.82 104.78,191.30 105.50,191.25 105.69,190.81 106.33,190.82 105.86,189.73 106.69,189.92 106.61,189.22 106.22,188.21 107.22,188.58 107.08,187.80 107.40,187.50 107.27,188.30 107.67,188.55 108.64,188.22 108.32,189.21 108.13,190.06 109.06,189.78 109.00,190.50 109.45,190.69 109.13,191.77 110.11,191.34 109.98,192.21 110.59,192.21 110.08,193.51 110.52,193.71 111.10,193.75 111.25,193.24 111.04,192.40 111.53,192.21 111.95,191.96 112.65,191.97 111.92,190.63 112.64,190.66 113.02,190.37 113.00,189.70 113.10,190.19 112.94,190.89 113.43,191.06 113.08,191.91 113.67,192.01 113.85,192.43 114.17,192.74 114.15,193.33 114.56,193.56 114.49,194.19 114.99,194.36 114.90,195.00 114.91,194.45 115.06,193.99 115.38,193.67 115.55,193.23 115.62,192.72 115.60,192.14 116.03,191.90 116.22,191.49 116.39,191.05 116.50,190.57 116.50,190.00 117.18,190.06 117.46,189.67 117.29,188.80 117.38,188.20 117.97,188.16 118.00,187.50 118.47,187.67 118.08,188.68 118.26,189.14 118.43,189.61 118.98,189.68 119.30,190.00 118.99,190.90 119.61,190.92 119.96,191.20 119.92,191.84 119.74,192.62 120.50,192.50 121.16,192.49 121.19,191.94 120.53,190.80 121.32,190.91 121.35,190.35 121.69,190.07 122.11,189.86 121.58,188.82 122.32,188.89 121.78,187.84 122.40,187.80 123.01,187.62 123.03,188.81 123.76,188.33 123.85,189.37 124.75,188.49 124.90,189.40 125.14,189.75 124.99,190.34 125.35,190.60 125.21,191.19 125.15,191.73 125.40,192.07 125.42,192.55 125.79,192.81 125.61,193.42 125.71,193.86 125.81,194.29 125.98,194.68 126.07,195.12 126.10,195.60 126.04,196.21 126.58,196.36 126.73,196.81 126.48,197.57 126.95,197.78 127.12,198.21 127.23,198.70 127.13,199.34 127.40,199.70 127.68,199.37 127.38,198.66 127.65,198.31 127.60,197.77 127.76,197.36 127.83,196.89 128.11,196.56 128.08,196.02 128.09,195.52 128.33,195.15 128.22,194.57 128.34,194.13 128.81,193.92 128.57,193.25 128.73,192.84 128.98,192.48 129.12,192.06 129.25,191.63 129.01,190.96 129.25,190.60 129.26,191.21 129.14,191.95 130.37,191.36 129.88,192.46 129.90,193.06 130.50,193.10 130.72,192.52 130.99,192.03 131.66,192.17 131.88,191.59 132.00,190.85 132.62,190.92 133.00,190.60 133.37,190.25 133.87,190.32 134.25,190.01 134.56,189.48 135.01,189.36 135.50,189.40 135.76,189.02 135.62,188.38 135.86,187.99 135.74,187.36 136.17,187.10 136.10,186.50 136.09,185.94 136.40,185.60 136.88,185.71 137.17,186.05 136.67,187.31 137.56,186.95 137.87,187.26 137.90,187.90 138.47,187.86 138.69,189.06 139.40,188.50 139.72,188.16 139.87,187.68 140.14,187.30 139.89,186.49 140.09,186.06 140.59,185.86 139.81,184.64 140.70,184.75 140.65,184.17 140.84,183.75 140.90,183.25 141.22,182.92 141.20,182.36 141.57,182.07 141.52,181.49 141.60,181.00 141.68,180.45 141.86,179.99 142.48,179.94 142.29,179.13 142.60,178.80 142.99,179.30 143.76,178.16 144.03,179.16 144.59,178.92 145.10,178.87 145.40,179.75 145.92,179.75 146.43,179.61 146.96,179.71 147.51,180.08 148.05,180.30 148.50,179.40 149.00,179.27 149.43,178.75 149.99,178.97 150.61,179.59 151.00,178.80 151.70,179.41 152.16,179.10 152.34,177.60 153.26,179.13 153.50,177.90 153.83,178.37 154.61,177.45 154.75,178.50 154.99,178.15 155.25,177.80 155.07,177.14 155.34,176.81 155.28,176.23 155.35,175.75 155.74,175.50 155.49,174.79 156.04,174.66 156.00,174.10 156.23,174.56 157.06,174.33 157.29,174.78 156.87,175.99 156.85,176.74 157.60,176.60 157.76,175.89 158.81,176.89 158.34,174.96 159.10,175.40 159.34,175.03 159.15,174.43 159.04,173.87 159.20,173.45 159.35,173.03 159.58,172.66 159.67,172.21 159.34,171.53 159.60,171.17 159.72,170.74 159.61,170.18 159.75,169.75 160.05,170.72 160.87,169.66 161.51,169.31 162.00,169.55 162.25,170.70 162.42,171.39 162.93,171.56 162.87,172.61 163.25,172.98 164.10,172.60 164.89,172.66 163.89,171.06 165.10,171.50 165.25,170.96 165.40,170.43 165.40,169.75 165.97,169.67 166.52,169.55 166.50,168.72 166.48,167.88 166.99,167.73 167.25,167.25 167.19,166.34 167.99,166.46 167.56,165.11 168.50,165.40 169.17,165.46 169.06,166.13 168.55,167.12 168.81,167.50 169.52,167.53 169.26,168.31 170.26,168.11 169.75,169.10 169.59,168.55 170.05,168.30 169.70,167.65 169.78,167.22 169.89,166.79 169.78,166.27 169.90,165.85 169.79,165.32 169.71,164.81 169.80,164.38 170.00,164.00 170.42,163.70 170.37,162.53 171.10,162.80 171.43,162.33 172.00,162.30 172.31,161.79 172.39,160.86 173.62,161.96 173.57,160.81 174.00,160.50 174.70,160.70 175.14,160.56 174.67,159.17 175.12,159.04 175.67,159.04 175.63,158.24 176.00,158.00 176.16,157.28 177.01,157.66 177.55,157.56 177.50,156.50 178.25,157.08 178.43,156.25 178.65,155.50 179.54,156.44 179.69,155.53 180.00,155.00 180.33,153.93 180.84,153.84 181.60,155.14 181.83,153.52 182.30,153.28 183.00,154.20 183.48,153.91 184.00,154.13 184.49,153.92 185.00,153.95 185.51,154.10 186.03,154.25 186.50,153.80 186.60,153.33 186.70,152.88 187.16,152.68 186.92,151.96 187.32,151.73 187.28,151.15 187.38,150.69 187.37,150.14 187.91,150.02 187.97,149.52 188.00,149.00" fill="none" stroke="#000" stroke-width="2" stroke-linejoin="round" shape-rendering="crispEdges"/><path d="M220.5,161.5v-2.4M221.3,162.0v2.7M221.9,163.3v2.1M225.4,168.8v2.0M229.9,175.5v-2.2M231.0,180.9v-2.6M234.4,182.6v2.4M234.9,181.5v-2.2M237.2,185.4v2.6M248.8,187.1v-2.3M254.8,189.8v-2.9M257.1,190.7v-2.5M261.3,191.0v-2.5M266.2,192.3v3.3M270.5,192.1v3.0M271.5,192.2v3.3M271.6,191.4v2.1M280.8,191.3v-2.8M281.1,189.9v3.0M292.1,192.0v-3.1M292.1,190.9v-2.4M301.0,189.4v2.5M310.9,188.9v2.2M314.8,188.2v2.3M320.3,184.7v-2.6M328.9,185.0v2.9M331.2,185.3v3.1M336.0,181.3v2.3M338.6,177.9v-2.7M341.5,181.0v-2.5M345.1,178.9v2.9M348.6,176.1v2.2M358.5,165.3v-3.5M359.7,165.5v2.6M364.2,159.6v-3.3M368.5,154.5v3.4" stroke="#000" stroke-width="1" fill="none" shape-rendering="crispEdges"/><polyline points="210.00,149.00 210.64,148.99 210.09,150.24 210.42,150.56 211.21,150.39 211.19,151.09 211.47,151.45 211.49,152.10 211.57,152.68 212.57,152.29 212.88,152.63 212.60,153.60 212.60,154.43 213.31,154.24 213.32,155.06 214.36,154.38 214.26,155.36 214.32,156.10 215.11,155.79 214.76,157.14 215.50,156.90 215.53,157.80 216.59,156.79 216.96,157.09 216.90,158.16 216.93,159.06 217.74,158.52 218.00,159.00 218.61,158.95 218.78,159.60 219.49,159.40 219.68,160.03 219.84,160.70 220.15,161.14 220.50,161.50 221.03,161.61 221.26,162.02 221.51,162.43 221.48,163.12 221.90,163.34 222.43,163.45 221.76,164.81 222.30,164.90 222.60,165.25 222.91,165.80 223.68,165.43 223.48,166.99 224.00,167.12 224.70,166.90 225.35,166.88 225.36,167.55 225.18,168.42 225.43,168.83 225.90,169.00 226.63,169.11 226.34,168.07 227.03,168.14 227.12,167.52 227.20,166.90 227.72,167.06 227.75,167.85 227.78,168.66 228.13,169.03 228.80,169.00 228.90,169.47 228.96,169.96 229.30,170.27 229.31,170.79 229.17,171.42 229.44,171.78 229.64,172.17 229.58,172.75 229.70,173.20 229.66,173.70 229.71,174.15 229.89,174.54 229.90,175.01 229.92,175.48 229.84,176.00 230.00,176.39 230.10,176.82 230.10,177.30 230.19,177.76 230.48,178.11 230.56,178.58 230.37,179.22 230.34,179.76 230.59,180.13 230.77,180.54 230.95,180.94 230.90,181.50 231.11,181.92 230.79,182.87 231.25,183.05 231.72,183.21 231.58,183.99 232.20,184.00 232.88,183.82 233.26,184.56 233.80,184.80 234.50,184.50 234.76,184.16 234.57,183.62 234.52,183.14 234.43,182.64 234.59,182.26 234.82,181.91 234.32,181.23 234.75,180.97 234.79,180.53 234.83,180.09 234.77,179.61 234.82,179.18 234.67,178.65 234.71,178.22 234.65,177.73 234.70,177.30 234.96,177.65 234.55,178.33 234.74,178.72 234.96,179.10 234.82,179.64 234.86,180.11 234.95,180.54 234.98,181.01 234.90,181.53 234.88,182.02 234.91,182.49 235.02,182.91 235.28,183.27 235.20,183.79 235.25,184.25 235.10,184.80 235.59,185.13 236.00,185.87 236.55,185.89 237.20,185.40 237.75,185.97 238.23,185.94 238.57,184.64 239.10,185.10 238.87,186.01 239.34,186.22 240.38,185.83 240.70,186.18 240.94,186.61 240.18,188.08 241.10,187.81 241.00,188.60 241.70,187.96 241.93,189.22 242.58,188.81 243.22,188.41 243.50,189.50 243.40,188.54 244.17,188.71 244.04,187.72 244.49,187.47 245.34,187.75 245.40,187.00 245.86,187.05 246.37,186.91 246.74,187.37 247.40,186.56 247.67,187.47 248.09,187.69 248.50,188.00 248.82,187.15 249.28,186.78 250.23,188.24 250.51,187.22 251.00,187.00 251.61,186.53 251.90,187.52 252.28,188.12 252.90,187.60 253.77,187.18 254.08,187.54 254.24,188.12 253.88,189.43 254.84,188.87 254.75,189.80 255.29,190.19 255.78,190.07 256.26,189.72 256.70,188.95 257.25,189.50 257.12,190.68 257.66,190.67 258.30,190.47 258.96,190.25 258.88,191.34 259.50,191.19 259.75,191.70 260.10,191.37 260.01,190.57 260.68,190.57 260.16,189.31 261.00,189.50 261.57,189.42 261.31,190.97 261.78,191.10 262.70,190.34 262.90,191.00 263.62,191.37 263.46,190.05 264.44,190.92 264.62,190.25 264.75,189.50 265.16,189.75 265.67,189.87 266.28,189.86 265.55,191.67 266.87,190.69 266.24,192.34 266.38,192.96 267.25,192.60 267.69,192.41 267.66,191.36 268.73,192.31 269.21,192.18 269.10,191.00 269.19,191.68 269.72,191.68 270.19,191.79 270.54,192.07 271.01,192.16 271.00,193.00 271.52,192.93 271.55,192.16 271.58,191.40 271.79,190.89 272.76,191.46 272.64,190.49 273.19,190.46 273.50,190.10 273.97,189.66 274.57,190.79 275.07,190.79 275.41,188.81 276.00,189.80 276.54,189.21 276.98,189.56 277.31,191.06 277.83,190.68 278.40,189.78 278.90,189.57 279.27,190.65 279.71,191.07 280.25,190.40 280.78,191.29 281.13,189.95 281.68,191.07 282.10,190.59 282.52,190.09 283.07,191.14 283.38,189.44 283.93,190.46 284.26,189.00 284.73,189.13 285.25,189.80 285.91,190.48 285.91,188.86 286.65,189.82 286.98,189.32 287.53,189.65 287.67,188.49 288.07,188.26 288.46,187.99 289.00,188.25 288.89,189.23 289.51,189.14 289.43,190.09 289.82,190.33 291.00,189.43 290.90,190.40 291.14,190.88 291.99,190.57 292.37,190.87 292.10,192.00 292.12,190.88 293.27,192.06 293.62,191.59 294.07,191.35 294.04,190.12 294.60,190.10 294.87,190.63 295.08,191.26 295.86,190.84 296.05,191.51 296.50,191.70 296.43,190.88 296.53,190.28 297.04,190.19 298.10,190.78 297.97,189.88 298.70,190.06 298.39,188.95 298.44,188.28 299.00,188.25 298.99,189.09 299.26,189.52 300.51,188.51 300.07,189.97 301.05,189.36 300.90,190.40 301.01,189.39 302.04,190.66 301.79,188.74 302.36,188.88 303.37,190.12 303.40,188.90 303.93,188.85 304.54,188.31 305.02,188.54 305.49,188.82 305.90,189.50 306.54,189.54 306.20,188.05 307.46,189.07 307.25,187.77 307.75,187.60 307.73,188.80 308.20,189.01 309.19,188.16 309.65,188.40 309.85,189.14 310.25,189.50 309.95,188.53 310.91,188.95 310.33,187.67 310.53,187.24 312.04,188.26 311.37,186.88 312.00,186.93 312.10,186.40 312.60,186.41 313.13,186.24 313.70,185.82 313.87,187.77 314.50,187.00 314.76,188.15 315.23,188.30 316.11,186.62 316.40,187.60 316.36,186.73 317.16,186.95 317.92,187.11 317.69,186.00 318.17,185.81 318.25,185.10 318.77,185.46 319.30,184.57 319.82,185.19 320.35,184.68 320.88,184.54 321.40,185.10 322.04,184.35 322.39,184.92 322.50,186.56 323.20,185.56 323.54,186.14 323.99,186.26 324.50,186.10 325.09,187.01 325.51,185.74 326.02,185.50 326.54,185.49 327.05,185.41 327.60,185.75 328.16,186.41 328.62,186.42 328.89,185.04 329.35,185.02 329.86,185.38 330.32,185.36 330.75,185.10 331.21,185.27 331.61,184.46 332.03,183.92 332.51,184.37 332.94,183.95 333.46,184.96 333.90,184.80 333.65,183.70 333.96,183.27 334.97,183.69 334.83,182.72 335.40,182.60 335.68,182.25 335.65,181.67 335.96,181.35 335.72,180.62 336.03,180.29 336.32,179.94 336.03,179.19 336.40,178.90 337.15,179.71 337.05,177.76 337.91,178.92 338.50,179.19 338.60,177.90 338.48,178.85 339.44,178.34 340.02,178.35 339.78,179.45 340.10,179.80 339.69,180.86 340.85,180.38 340.17,181.70 341.52,181.03 340.58,182.60 342.12,181.75 341.92,182.61 341.25,183.91 341.62,184.21 342.30,184.20 343.14,184.45 343.32,183.92 343.45,183.35 343.63,182.84 343.18,181.59 343.90,181.70 344.00,181.14 343.77,180.29 344.83,180.60 344.96,180.07 344.52,179.02 345.10,178.90 344.92,178.29 345.52,178.14 345.51,177.62 345.44,177.07 345.51,176.61 345.77,176.25 345.61,175.65 345.65,175.17 345.70,174.69 345.73,174.20 345.67,173.66 346.11,173.41 346.10,172.90 346.42,172.43 346.97,172.45 347.30,172.00 347.69,172.27 347.67,172.85 347.94,173.21 348.09,173.66 348.16,174.17 347.98,174.87 348.37,175.14 348.51,175.60 348.60,176.10 349.06,175.85 348.83,174.78 348.82,173.96 349.84,174.39 350.10,173.90 350.27,173.44 350.66,173.18 350.50,172.45 351.05,172.31 351.29,171.91 350.67,170.82 351.25,170.70 351.71,170.53 352.17,170.34 352.49,169.59 353.06,169.87 353.60,170.05 354.25,170.70 354.50,169.60 355.33,170.13 355.03,168.52 355.81,168.95 355.56,167.43 355.97,167.16 356.83,167.74 357.20,167.40 357.98,167.73 357.36,166.07 358.44,166.81 358.89,166.67 358.46,165.28 359.25,165.61 359.75,165.54 359.44,164.32 359.90,164.20 360.46,164.12 360.78,163.77 360.86,163.12 361.50,163.14 361.83,162.79 362.19,162.49 361.92,161.43 362.10,160.90 362.07,159.92 362.52,159.71 362.84,159.29 363.62,159.60 364.20,159.60 364.25,158.75 363.96,157.57 365.10,158.28 365.46,157.95 365.28,156.91 365.81,156.81 365.65,155.80 366.40,156.00 366.99,156.12 366.49,154.48 367.93,155.96 368.05,155.31 368.00,154.40 368.54,154.53 368.80,153.53 369.40,153.90 369.22,154.50 369.25,154.98 369.78,155.18 369.47,155.85 369.49,156.33 369.65,156.74 369.68,157.21 369.89,157.60 369.67,158.22 369.70,158.70 370.10,158.97 369.91,159.57 370.18,159.91 370.20,160.40 370.16,159.91 370.21,159.47 370.20,159.00 370.36,158.61 370.39,158.15 370.26,157.63 370.37,157.21 370.36,156.74 370.33,156.25 370.38,155.81 370.39,155.35 370.50,154.94 370.39,154.42 370.50,154.00 370.58,153.51 370.76,153.08 370.83,152.58 371.07,152.20 371.20,151.74 371.37,151.32 371.40,150.78 371.55,150.34 371.73,149.91 371.83,149.43 372.00,149.00" fill="none" stroke="#000" stroke-width="2" stroke-linejoin="round" shape-rendering="crispEdges"/><path d="M396.9,152.5v-3.1M422.6,167.4v2.7M434.1,174.1v3.2M434.9,172.0v-3.1M446.5,176.7v-2.5M447.0,176.7v-2.2M449.2,177.7v-2.3M460.8,178.8v2.0M467.4,180.4v2.3M477.7,182.5v2.3M478.7,182.2v2.3M487.3,195.0v-2.6M487.7,196.8v2.5M487.8,195.4v-2.5M489.6,189.1v2.6M493.0,183.6v2.8M494.1,186.0v-1.9M514.3,176.0v-2.7M517.1,175.6v2.4M517.1,174.3v-2.4M522.5,173.5v2.2M525.5,173.4v2.9M525.5,171.6v2.6M527.3,172.6v2.7M543.9,164.2v2.6M547.5,162.2v-2.6M548.2,161.6v2.5M548.0,160.7v-3.0" stroke="#000" stroke-width="1" fill="none" shape-rendering="crispEdges"/><polyline points="396.00,149.00 395.82,149.64 395.92,150.08 396.58,150.17 396.66,150.63 396.29,151.39 396.45,151.80 396.59,152.22 396.92,152.52 396.83,153.09 397.00,153.50 397.24,154.10 397.65,154.42 398.56,153.92 398.50,155.00 398.99,154.78 399.48,154.64 400.03,155.46 400.57,156.12 401.00,154.80 402.01,155.39 402.00,154.00 402.25,154.48 402.70,154.70 403.27,154.76 403.25,155.60 404.21,155.07 404.54,155.43 404.24,156.66 404.50,157.10 404.92,156.52 405.45,156.55 406.17,157.74 406.51,156.69 407.00,156.50 407.08,157.03 407.80,157.00 408.34,157.13 408.01,158.02 408.51,158.18 408.05,159.17 408.25,159.60 407.74,160.87 408.48,160.67 409.48,160.17 408.65,161.82 409.50,161.50 409.30,162.41 409.64,162.68 409.63,163.36 410.10,163.49 410.75,163.40 411.42,163.37 410.86,162.29 412.10,162.75 412.25,162.27 411.07,160.66 412.25,161.07 412.00,160.25 411.86,161.01 412.48,161.02 412.58,161.55 412.85,161.90 412.35,163.01 413.25,162.75 413.38,163.25 413.31,163.89 413.73,164.19 413.53,164.92 413.90,165.25 413.62,166.41 414.57,166.01 414.73,166.63 414.52,167.70 415.11,167.75 415.75,167.75 416.09,167.37 416.11,166.46 416.60,166.32 417.44,166.73 417.11,165.27 418.42,166.45 418.25,165.25 418.90,165.23 418.26,166.85 419.45,166.15 418.81,167.77 419.49,167.72 420.10,167.75 420.23,167.32 420.37,166.89 420.58,166.51 420.67,166.05 420.64,165.49 420.70,165.01 421.02,164.71 421.40,164.47 421.35,163.89 421.40,163.40 421.73,163.73 421.33,164.48 421.46,164.93 421.41,165.48 421.93,165.71 421.65,166.39 422.15,166.62 421.84,167.32 422.00,167.75 422.60,167.41 423.06,167.51 422.94,169.28 423.99,167.64 424.07,168.85 424.50,169.00 425.00,169.92 425.50,168.34 426.00,168.25 426.50,169.99 427.00,169.00 427.50,169.14 427.59,170.12 428.77,168.91 428.82,169.96 429.44,169.85 429.50,170.90 429.55,171.62 430.71,170.92 429.74,172.95 431.39,171.61 431.00,172.90 431.29,173.64 432.20,172.06 432.49,172.81 432.57,174.36 433.44,172.91 433.86,173.15 434.10,174.10 434.31,173.73 434.21,173.17 434.09,172.59 434.78,172.53 434.35,171.74 434.37,171.26 434.75,171.00 434.97,171.43 434.93,172.05 434.98,172.60 435.49,172.83 435.48,173.43 435.50,174.00 434.94,172.80 435.86,172.96 436.60,172.97 436.78,172.45 436.60,171.60 436.16,172.66 436.77,172.70 436.87,173.22 437.24,173.49 437.68,173.68 438.14,173.86 437.92,174.71 438.47,174.80 438.50,175.40 439.10,174.93 439.46,175.62 439.78,176.43 440.50,175.42 440.81,176.28 441.35,176.13 441.78,176.47 442.25,176.60 442.79,176.12 443.10,177.49 443.70,176.46 444.10,177.09 444.61,176.88 445.15,176.32 445.52,177.26 446.00,177.25 446.51,176.74 446.97,176.66 447.43,176.69 447.87,176.95 448.33,176.90 448.71,177.82 449.18,177.68 449.57,178.49 450.03,178.47 450.47,178.63 451.00,177.90 451.50,177.47 452.00,177.81 452.50,177.50 453.00,177.90 453.44,178.10 453.89,178.21 454.32,178.54 454.79,178.45 455.31,177.79 455.74,178.10 456.18,178.32 456.70,177.55 457.15,177.65 457.56,178.30 458.00,178.50 458.56,178.00 458.85,179.08 459.43,178.43 459.93,178.33 460.36,178.57 460.80,178.76 461.26,178.85 461.63,179.44 462.10,179.47 462.60,179.34 463.00,179.75 463.35,180.19 464.01,179.80 464.07,181.05 464.46,181.37 465.02,181.26 465.61,181.07 466.00,181.40 466.50,181.34 467.01,181.37 467.42,180.45 467.99,180.95 468.50,181.00 468.84,181.33 469.44,181.17 469.86,181.36 469.71,182.60 470.38,182.32 470.63,182.83 471.00,183.10 470.95,183.97 471.53,183.96 472.12,183.93 471.84,185.14 472.67,184.76 473.28,184.69 473.03,185.86 473.50,186.00 473.54,185.14 474.06,185.04 474.84,185.36 475.07,184.79 474.90,183.60 475.60,183.80 476.00,183.50 476.36,183.09 476.82,182.91 477.07,182.24 477.72,182.49 477.81,181.48 478.50,181.80 478.68,182.20 478.74,182.68 478.62,183.27 479.05,183.51 478.88,184.13 479.19,184.45 479.15,184.99 479.31,185.40 479.38,185.88 479.36,186.40 479.60,186.77 479.80,187.15 479.75,187.70 480.01,188.06 480.14,188.50 479.96,189.16 480.15,189.56 480.14,190.09 480.36,190.48 480.73,190.76 480.60,191.38 480.67,191.86 480.80,192.30 481.00,192.70 481.04,193.15 481.14,193.58 481.14,194.06 481.04,194.58 481.29,194.93 481.23,195.43 481.29,195.88 481.15,196.43 481.24,196.86 481.23,197.34 481.31,197.77 481.56,198.12 481.63,198.56 481.57,199.07 481.70,199.47 481.67,199.96 481.62,200.47 481.56,200.97 481.73,201.36 481.68,201.86 482.00,202.17 481.94,202.68 481.73,203.26 482.11,203.54 482.04,204.05 482.22,204.44 482.25,204.90 481.97,205.52 481.98,205.99 482.15,206.38 482.25,206.80 482.48,207.21 482.51,207.75 482.62,208.24 482.54,208.84 482.70,209.30 482.81,208.88 482.76,208.38 482.83,207.94 482.71,207.40 482.92,207.03 483.12,206.66 483.08,206.17 482.86,205.58 483.07,205.21 483.18,204.79 483.05,204.25 483.33,203.92 483.20,203.38 483.34,202.97 483.26,202.46 483.53,202.12 483.49,201.62 483.45,201.12 483.32,200.58 483.50,200.20 483.53,199.73 483.43,199.19 483.71,198.86 483.88,198.46 483.66,197.86 483.84,197.47 483.89,197.01 483.92,196.54 484.09,196.15 484.24,195.75 484.20,195.24 484.17,194.74 484.42,194.39 484.23,193.80 484.45,193.44 484.47,192.96 484.57,192.53 484.66,192.09 484.47,191.50 484.68,191.14 484.66,190.63 484.75,190.20 484.88,189.77 485.07,189.38 485.00,188.84 484.82,188.24 485.07,187.88 485.23,187.47 485.36,187.04 485.33,186.53 485.46,186.10 485.22,185.46 485.65,185.20 485.63,184.69 485.65,184.20 485.83,183.81 485.89,183.34 485.65,182.70 485.99,182.40 486.04,181.92 486.00,181.40 486.15,181.79 485.96,182.35 486.05,182.77 486.23,183.14 486.02,183.71 486.31,184.03 486.16,184.57 486.25,184.99 486.35,185.40 486.26,185.91 486.33,186.34 486.46,186.74 486.19,187.34 486.40,187.70 486.63,188.06 486.72,188.50 486.60,189.06 486.53,189.60 486.66,190.01 486.69,190.49 486.86,190.88 486.85,191.38 487.05,191.76 487.14,192.20 487.11,192.71 487.36,193.05 487.41,193.52 487.21,194.13 487.50,194.45 487.34,195.04 487.39,195.50 487.61,195.87 487.57,196.38 487.70,196.80 487.88,196.41 487.99,195.97 487.78,195.35 487.86,194.90 488.02,194.50 488.12,194.06 488.13,193.57 488.09,193.05 488.38,192.72 488.61,192.36 488.50,191.80 488.58,191.25 488.96,191.01 489.02,190.45 489.29,190.09 489.93,190.11 489.58,189.13 490.14,189.06 490.20,188.50 490.36,188.07 490.60,187.71 491.16,187.64 490.48,186.45 491.43,186.73 491.07,185.83 491.60,185.74 491.93,185.46 491.96,184.91 491.88,184.26 492.51,184.26 491.92,183.15 492.66,183.24 492.70,182.70 492.98,183.02 493.01,183.56 492.85,184.27 493.07,184.64 493.42,184.90 493.92,185.03 494.17,185.37 494.11,185.99 494.52,186.21 494.64,186.67 494.10,187.70 494.75,187.70 495.33,187.83 494.77,188.92 495.41,189.01 495.61,189.47 495.83,189.90 496.26,190.16 496.00,191.00 496.11,190.51 495.96,189.81 496.40,189.59 496.40,189.01 497.19,189.06 497.37,188.63 497.02,187.77 497.38,187.48 497.85,187.27 497.36,186.31 497.70,186.00 497.95,186.35 497.99,186.83 498.10,187.26 498.00,187.83 498.21,188.20 498.31,188.64 498.23,189.20 498.54,189.50 498.41,190.09 498.57,190.49 498.75,190.88 498.68,191.43 498.90,191.80 499.10,192.22 499.05,192.84 499.17,193.32 499.48,193.67 499.55,194.19 499.60,194.73 499.82,195.14 499.96,195.60 500.20,196.00 500.45,195.64 500.58,195.20 500.62,194.70 500.82,194.31 500.67,193.67 500.90,193.30 501.03,192.86 501.02,192.33 501.14,191.88 501.17,191.37 501.40,191.00 501.66,190.66 501.52,190.07 501.65,189.65 501.90,189.31 501.71,188.69 502.10,188.43 501.86,187.78 501.91,187.31 502.12,186.94 502.21,186.50 502.51,186.19 502.59,185.73 502.63,185.26 502.59,184.73 502.70,184.30 502.99,183.94 502.95,183.20 503.77,183.42 503.59,182.54 503.74,182.02 504.33,181.99 504.12,181.06 504.52,180.82 505.36,181.06 505.20,180.20 505.41,179.39 505.85,179.24 506.30,179.11 506.74,178.97 507.24,179.00 507.70,178.90 508.21,178.56 508.66,178.76 509.15,178.67 509.62,178.71 510.04,179.36 510.55,178.98 511.00,179.30 511.17,178.74 511.81,178.76 511.44,177.56 511.72,177.14 512.82,177.70 512.70,176.80 513.06,176.46 513.69,176.90 513.69,175.50 514.35,176.01 514.96,176.40 515.04,175.25 515.72,175.84 516.03,175.34 516.30,174.74 517.09,175.64 517.12,174.32 517.58,174.26 518.00,174.10 518.47,174.28 518.87,173.62 519.41,174.59 519.82,174.05 520.27,173.97 520.71,173.82 521.24,174.64 521.69,174.59 522.11,174.24 522.50,173.50 522.93,173.24 523.37,172.99 523.88,173.03 524.09,171.94 524.58,171.89 525.47,173.41 525.50,171.58 526.35,172.95 526.68,172.29 527.25,172.57 527.50,171.60 527.65,170.61 528.21,170.82 528.94,171.53 528.86,169.86 529.34,169.83 529.91,170.07 530.21,169.54 530.61,169.28 531.36,170.04 531.41,168.76 532.38,170.18 532.50,169.10 533.03,169.22 533.19,167.90 534.06,169.36 534.19,167.93 534.76,168.22 535.26,168.20 535.51,167.23 536.14,167.76 536.38,166.75 536.90,166.84 537.50,167.25 538.16,167.88 538.57,167.53 538.87,166.79 539.41,166.93 539.96,167.13 540.05,165.55 540.68,166.06 540.96,165.20 541.40,165.00 541.86,164.82 542.50,165.40 542.67,164.64 542.94,164.12 543.44,164.16 543.95,164.22 544.51,164.41 545.08,164.59 545.49,164.43 545.74,163.85 545.97,163.23 546.66,163.72 546.48,162.13 546.82,161.79 547.50,162.25 548.15,162.31 548.22,161.65 548.03,160.66 548.50,160.50 548.70,160.00 549.14,159.79 549.50,159.50 549.63,158.99 549.81,158.54 550.52,158.62 550.75,158.22 550.66,157.49 550.80,157.00 550.96,156.47 550.92,155.76 551.74,155.80 551.60,155.00 552.06,155.48 552.71,155.24 553.20,155.60 553.68,155.51 554.13,155.31 554.58,155.09 555.00,154.80 555.54,154.62 556.00,155.03 556.52,154.92 557.00,155.20" fill="none" stroke="#000" stroke-width="2" stroke-linejoin="round" shape-rendering="crispEdges"/></g>
<rect x="72" y="153" width="497" height="1" fill="#000"/>
<rect x="72" y="210" width="497" height="1" fill="#000"/>
<rect x="72" y="153" width="1" height="58" fill="#000"/>
<rect x="568" y="153" width="1" height="58" fill="#000"/>
<rect x="72" y="211" width="1" height="4" fill="#000"/>
<rect x="92" y="211" width="1" height="8" fill="#000"/>
<rect x="113" y="211" width="1" height="4" fill="#000"/>
<rect x="134" y="211" width="1" height="4" fill="#000"/>
<rect x="154" y="211" width="1" height="4" fill="#000"/>
<rect x="175" y="211" width="1" height="4" fill="#000"/>
<rect x="196" y="211" width="1" height="4" fill="#000"/>
<rect x="216" y="211" width="1" height="8" fill="#000"/>
<rect x="237" y="211" width="1" height="4" fill="#000"/>
<rect x="258" y="211" width="1" height="4" fill="#000"/>
<rect x="278" y="211" width="1" height="4" fill="#000"/>
<rect x="299" y="211" width="1" height="4" fill="#000"/>
<rect x="320" y="211" width="1" height="4" fill="#000"/>
<rect x="340" y="211" width="1" height="8" fill="#000"/>
<rect x="361" y="211" width="1" height="4" fill="#000"/>
<rect x="382" y="211" width="1" height="4" fill="#000"/>
<rect x="402" y="211" width="1" height="4" fill="#000"/>
<rect x="423" y="211" width="1" height="4" fill="#000"/>
<rect x="444" y="211" width="1" height="4" fill="#000"/>
<rect x="464" y="211" width="1" height="8" fill="#000"/>
<rect x="485" y="211" width="1" height="4" fill="#000"/>
<rect x="506" y="211" width="1" height="4" fill="#000"/>
<rect x="526" y="211" width="1" height="4" fill="#000"/>
<rect x="547" y="211" width="1" height="4" fill="#000"/>
<rect x="568" y="211" width="1" height="4" fill="#000"/>
<text transform="translate(91.87,233.80) scale(1.15,1)" font-family="Liberation Sans, sans-serif" font-size="12.4" text-anchor="middle" xml:space="preserve" >00:00</text>
<text transform="translate(215.87,233.80) scale(1.15,1)" font-family="Liberation Sans, sans-serif" font-size="12.4" text-anchor="middle" xml:space="preserve" >06:00</text>
<text transform="translate(339.87,233.80) scale(1.15,1)" font-family="Liberation Sans, sans-serif" font-size="12.4" text-anchor="middle" xml:space="preserve" >12:00</text>
<text transform="translate(463.87,233.80) scale(1.15,1)" font-family="Liberation Sans, sans-serif" font-size="12.4" text-anchor="middle" xml:space="preserve" >18:00</text>
<text transform="translate(74.10,245.90) scale(1.133,1)" font-family="Liberation Sans, sans-serif" font-size="12.4" text-anchor="start" xml:space="preserve" >2014-03-08</text>
<rect x="64" y="163" width="8" height="1" fill="#000"/>
<rect x="68" y="156" width="4" height="1" fill="#000"/>
<rect x="68" y="153" width="4" height="1" fill="#000"/>
<text transform="translate(35.66,171.00) scale(1.15,1)" font-family="Liberation Sans, sans-serif" font-size="12.4" text-anchor="start" xml:space="preserve" >10</text>
<text transform="translate(52.43,165.00) scale(1.15,1)" font-family="Liberation Sans, sans-serif" font-size="12.4" text-anchor="start" xml:space="preserve" >6</text>
<rect x="64" y="184" width="8" height="1" fill="#000"/>
<rect x="68" y="177" width="4" height="1" fill="#000"/>
<rect x="68" y="174" width="4" height="1" fill="#000"/>
<rect x="68" y="171" width="4" height="1" fill="#000"/>
<rect x="68" y="169" width="4" height="1" fill="#000"/>
<rect x="68" y="167" width="4" height="1" fill="#000"/>
<rect x="68" y="166" width="4" height="1" fill="#000"/>
<rect x="68" y="165" width="4" height="1" fill="#000"/>
<rect x="68" y="164" width="4" height="1" fill="#000"/>
<text transform="translate(35.66,192.00) scale(1.15,1)" font-family="Liberation Sans, sans-serif" font-size="12.4" text-anchor="start" xml:space="preserve" >10</text>
<text transform="translate(52.43,186.00) scale(1.15,1)" font-family="Liberation Sans, sans-serif" font-size="12.4" text-anchor="start" xml:space="preserve" >5</text>
<rect x="64" y="205" width="8" height="1" fill="#000"/>
<rect x="68" y="198" width="4" height="1" fill="#000"/>
<rect x="68" y="195" width="4" height="1" fill="#000"/>
<rect x="68" y="192" width="4" height="1" fill="#000"/>
<rect x="68" y="190" width="4" height="1" fill="#000"/>
<rect x="68" y="188" width="4" height="1" fill="#000"/>
<rect x="68" y="187" width="4" height="1" fill="#000"/>
<rect x="68" y="186" width="4" height="1" fill="#000"/>
<rect x="68" y="185" width="4" height="1" fill="#000"/>
<text transform="translate(35.66,213.00) scale(1.15,1)" font-family="Liberation Sans, sans-serif" font-size="12.4" text-anchor="start" xml:space="preserve" >10</text>
<text transform="translate(52.43,207.00) scale(1.15,1)" font-family="Liberation Sans, sans-serif" font-size="12.4" text-anchor="start" xml:space="preserve" >4</text>
<rect x="68" y="209" width="4" height="1" fill="#000"/>
<rect x="68" y="208" width="4" height="1" fill="#000"/>
<rect x="68" y="207" width="4" height="1" fill="#000"/>
<rect x="68" y="206" width="4" height="1" fill="#000"/>
<rect x="452.5" y="156.5" width="107" height="21" rx="2" fill="#fff" fill-opacity="0.55" stroke="#000" stroke-width="1" shape-rendering="geometricPrecision"/>
<line x1="457" y1="164.4" x2="468.8" y2="168.6" stroke="#000" stroke-width="1.25" shape-rendering="geometricPrecision"/>
<text transform="translate(472.75,170.80) scale(1.1602,1)" font-family="Liberation Sans, sans-serif" font-size="12.4" text-anchor="start" xml:space="preserve" >1000*density</text>
<g clip-path="url(#c2)"><path d="M97.0,290.9v-1.5M103.7,292.7v-2.3M113.0,294.7v2.5M114.2,297.7v2.0M116.5,295.0v2.1M124.8,293.5v2.0M125.7,298.9v2.6M126.1,300.6v-2.7M129.0,297.5v2.4M135.7,292.4v-1.9M136.4,290.6v-2.4M137.2,291.0v-2.9M137.6,292.0v-2.5M138.5,292.9v2.5M139.4,293.5v-2.1M142.6,283.8v3.3M144.0,284.2v-2.8M144.6,283.9v2.8M149.4,283.8v-2.5M154.8,283.5v3.2M164.1,277.6v-3.4M167.2,271.3v-3.0M169.8,269.4v2.7M174.7,265.7v2.6M181.8,258.5v3.1M183.5,258.9v-2.2" stroke="#000" stroke-width="1" fill="none" shape-rendering="crispEdges"/><polyline points="92.40,290.90 92.86,291.07 93.32,291.03 93.78,290.86 94.24,290.78 94.70,290.91 95.16,290.85 95.62,291.04 96.08,290.80 96.54,290.89 97.00,290.90 97.51,290.79 98.00,290.60 98.24,291.56 99.00,291.21 99.50,291.50 99.98,291.64 99.73,292.61 100.12,292.84 100.50,293.10 100.69,292.44 101.56,293.19 101.98,293.03 102.00,292.00 102.63,292.41 103.19,292.44 103.60,291.60 103.99,291.83 103.68,292.68 103.65,293.27 104.08,293.48 104.50,293.69 105.10,293.73 104.89,294.49 104.85,295.09 104.67,295.82 104.78,296.30 105.50,296.25 105.69,295.81 106.33,295.82 105.86,294.73 106.69,294.92 106.61,294.22 106.22,293.21 107.22,293.58 107.08,292.80 107.40,292.50 107.27,293.30 107.67,293.55 108.64,293.22 108.32,294.21 108.13,295.06 109.06,294.78 109.00,295.50 109.45,295.69 109.13,296.77 110.11,296.34 109.98,297.21 110.59,297.21 110.08,298.51 110.52,298.71 111.10,298.75 111.25,298.24 111.04,297.40 111.53,297.21 111.95,296.96 112.65,296.97 111.92,295.63 112.64,295.66 113.02,295.37 113.00,294.70 113.10,295.19 112.94,295.89 113.43,296.06 113.08,296.91 113.67,297.01 113.85,297.43 114.17,297.74 114.15,298.33 114.56,298.56 114.49,299.19 114.99,299.36 114.90,300.00 114.91,299.45 115.06,298.99 115.38,298.67 115.55,298.23 115.62,297.72 115.60,297.14 116.03,296.90 116.22,296.49 116.39,296.05 116.50,295.57 116.50,295.00 117.18,295.06 117.46,294.67 117.29,293.80 117.38,293.20 117.97,293.16 118.00,292.50 118.47,292.67 118.08,293.68 118.26,294.14 118.43,294.61 118.98,294.68 119.30,295.00 118.99,295.90 119.61,295.92 119.96,296.20 119.92,296.84 119.74,297.62 120.50,297.50 121.16,297.49 121.19,296.94 120.53,295.80 121.32,295.91 121.35,295.35 121.69,295.07 122.11,294.86 121.58,293.82 122.32,293.89 121.78,292.84 122.40,292.80 123.01,292.62 123.03,293.81 123.76,293.33 123.85,294.37 124.75,293.49 124.90,294.40 125.14,294.75 124.99,295.34 125.35,295.60 125.21,296.19 125.15,296.73 125.40,297.07 125.42,297.55 125.79,297.81 125.61,298.42 125.71,298.86 125.81,299.29 125.98,299.68 126.07,300.12 126.10,300.60 126.04,301.21 126.58,301.36 126.73,301.81 126.48,302.57 126.95,302.78 127.12,303.21 127.23,303.70 127.13,304.34 127.40,304.70 127.68,304.37 127.38,303.66 127.65,303.31 127.60,302.77 127.76,302.36 127.83,301.89 128.11,301.56 128.08,301.02 128.09,300.52 128.33,300.15 128.22,299.57 128.34,299.13 128.81,298.92 128.57,298.25 128.73,297.84 128.98,297.48 129.12,297.06 129.25,296.63 129.01,295.96 129.25,295.60 129.26,296.21 129.14,296.95 130.37,296.36 129.88,297.46 129.90,298.06 130.50,298.10 130.72,297.52 130.99,297.03 131.66,297.17 131.88,296.59 132.00,295.85 132.62,295.92 133.00,295.60 133.37,295.25 133.87,295.32 134.25,295.01 134.56,294.48 135.01,294.36 135.50,294.40 135.76,294.02 135.62,293.38 135.86,292.99 135.74,292.36 136.17,292.10 136.10,291.50 136.09,290.94 136.40,290.60 136.88,290.71 137.17,291.05 136.67,292.31 137.56,291.95 137.87,292.26 137.90,292.90 138.47,292.86 138.69,294.06 139.40,293.50 139.72,293.16 139.87,292.68 140.14,292.30 139.89,291.49 140.09,291.06 140.59,290.86 139.81,289.64 140.70,289.75 140.65,289.17 140.84,288.75 140.90,288.25 141.22,287.92 141.20,287.36 141.57,287.07 141.52,286.49 141.60,286.00 141.68,285.45 141.86,284.99 142.48,284.94 142.29,284.13 142.60,283.80 142.99,284.30 143.76,283.16 144.03,284.16 144.59,283.92 145.10,283.87 145.40,284.75 145.92,284.75 146.43,284.61 146.96,284.71 147.51,285.08 148.05,285.30 148.50,284.40 149.00,284.27 149.43,283.75 149.99,283.97 150.61,284.59 151.00,283.80 151.70,284.41 152.16,284.10 152.34,282.60 153.26,284.13 153.50,282.90 153.83,283.37 154.61,282.45 154.75,283.50 154.99,283.15 155.25,282.80 155.07,282.14 155.34,281.81 155.28,281.23 155.35,280.75 155.74,280.50 155.49,279.79 156.04,279.66 156.00,279.10 156.23,279.56 157.06,279.33 157.29,279.78 156.87,280.99 156.85,281.74 157.60,281.60 157.76,280.89 158.81,281.89 158.34,279.96 159.10,280.40 159.34,280.03 159.15,279.43 159.04,278.87 159.20,278.45 159.35,278.03 159.58,277.66 159.67,277.21 159.34,276.53 159.60,276.17 159.72,275.74 159.61,275.18 159.75,274.75 160.05,275.72 160.87,274.66 161.51,274.31 162.00,274.55 162.25,275.70 162.42,276.39 162.93,276.56 162.87,277.61 163.25,277.98 164.10,277.60 164.89,277.66 163.89,276.06 165.10,276.50 165.25,275.96 165.40,275.43 165.40,274.75 165.97,274.67 166.52,274.55 166.50,273.72 166.48,272.88 166.99,272.73 167.25,272.25 167.19,271.34 167.99,271.46 167.56,270.11 168.50,270.40 169.17,270.46 169.06,271.13 168.55,272.12 168.81,272.50 169.52,272.53 169.26,273.31 170.26,273.11 169.75,274.10 169.59,273.55 170.05,273.30 169.70,272.65 169.78,272.22 169.89,271.79 169.78,271.27 169.90,270.85 169.79,270.32 169.71,269.81 169.80,269.38 170.00,269.00 170.42,268.70 170.37,267.53 171.10,267.80 171.43,267.33 172.00,267.30 172.31,266.79 172.39,265.86 173.62,266.96 173.57,265.81 174.00,265.50 174.70,265.70 175.14,265.56 174.67,264.17 175.12,264.04 175.67,264.04 175.63,263.24 176.00,263.00 176.16,262.28 177.01,262.66 177.55,262.56 177.50,261.50 178.25,262.08 178.43,261.25 178.65,260.50 179.54,261.44 179.69,260.53 180.00,260.00 180.33,258.93 180.84,258.84 181.60,260.14 181.83,258.52 182.30,258.28 183.00,259.20 183.48,258.91 184.00,259.13 184.49,258.92 185.00,258.95 185.51,259.10 186.03,259.25 186.50,258.80 186.60,258.33 186.70,257.88 187.16,257.68 186.92,256.96 187.32,256.73 187.28,256.15 187.38,255.69 187.37,255.14 187.91,255.02 187.97,254.52 188.00,254.00" fill="none" stroke="#000" stroke-width="2" stroke-linejoin="round" shape-rendering="crispEdges"/><path d="M220.5,266.5v-2.4M221.3,267.0v2.7M221.9,268.3v2.1M225.4,273.8v2.0M229.9,280.5v-2.2M231.0,285.9v-2.6M234.4,287.6v2.4M234.9,286.5v-2.2M237.2,290.4v2.6M248.8,292.1v-2.3M254.8,294.8v-2.9M257.1,295.7v-2.5M261.3,296.0v-2.5M266.2,297.3v3.3M270.5,297.1v3.0M271.5,297.2v3.3M271.6,296.4v2.1M280.8,296.3v-2.8M281.1,294.9v3.0M292.1,297.0v-3.1M292.1,295.9v-2.4M301.0,294.4v2.5M310.9,293.9v2.2M314.8,293.2v2.3M320.3,289.7v-2.6M328.9,290.0v2.9M331.2,290.3v3.1M336.0,286.3v2.3M338.6,282.9v-2.7M341.5,286.0v-2.5M345.1,283.9v2.9M348.6,281.1v2.2M358.5,270.3v-3.5M359.7,270.5v2.6M364.2,264.6v-3.3M368.5,259.5v3.4" stroke="#000" stroke-width="1" fill="none" shape-rendering="crispEdges"/><polyline points="210.00,254.00 210.64,253.99 210.09,255.24 210.42,255.56 211.21,255.39 211.19,256.09 211.47,256.45 211.49,257.10 211.57,257.68 212.57,257.29 212.88,257.63 212.60,258.60 212.60,259.43 213.31,259.24 213.32,260.06 214.36,259.38 214.26,260.36 214.32,261.10 215.11,260.79 214.76,262.14 215.50,261.90 215.53,262.80 216.59,261.79 216.96,262.09 216.90,263.16 216.93,264.06 217.74,263.52 218.00,264.00 218.61,263.95 218.78,264.60 219.49,264.40 219.68,265.03 219.84,265.70 220.15,266.14 220.50,266.50 221.03,266.61 221.26,267.02 221.51,267.43 221.48,268.12 221.90,268.34 222.43,268.45 221.76,269.81 222.30,269.90 222.60,270.25 222.91,270.80 223.68,270.43 223.48,271.99 224.00,272.12 224.70,271.90 225.35,271.88 225.36,272.55 225.18,273.42 225.43,273.83 225.90,274.00 226.63,274.11 226.34,273.07 227.03,273.14 227.12,272.52 227.20,271.90 227.72,272.06 227.75,272.85 227.78,273.66 228.13,274.03 228.80,274.00 228.90,274.47 228.96,274.96 229.30,275.27 229.31,275.79 229.17,276.42 229.44,276.78 229.64,277.17 229.58,277.75 229.70,278.20 229.66,278.70 229.71,279.15 229.89,279.54 229.90,280.01 229.92,280.48 229.84,281.00 230.00,281.39 230.10,281.82 230.10,282.30 230.19,282.76 230.48,283.11 230.56,283.58 230.37,284.22 230.34,284.76 230.59,285.13 230.77,285.54 230.95,285.94 230.90,286.50 231.11,286.92 230.79,287.87 231.25,288.05 231.72,288.21 231.58,288.99 232.20,289.00 232.88,288.82 233.26,289.56 233.80,289.80 234.50,289.50 234.76,289.16 234.57,288.62 234.52,288.14 234.43,287.64 234.59,287.26 234.82,286.91 234.32,286.23 234.75,285.97 234.79,285.53 234.83,285.09 234.77,284.61 234.82,284.18 234.67,283.65 234.71,283.22 234.65,282.73 234.70,282.30 234.96,282.65 234.55,283.33 234.74,283.72 234.96,284.10 234.82,284.64 234.86,285.11 234.95,285.54 234.98,286.01 234.90,286.53 234.88,287.02 234.91,287.49 235.02,287.91 235.28,288.27 235.20,288.79 235.25,289.25 235.10,289.80 235.59,290.13 236.00,290.87 236.55,290.89 237.20,290.40 237.75,290.97 238.23,290.94 238.57,289.64 239.10,290.10 238.87,291.01 239.34,291.22 240.38,290.83 240.70,291.18 240.94,291.61 240.18,293.08 241.10,292.81 241.00,293.60 241.70,292.96 241.93,294.22 242.58,293.81 243.22,293.41 243.50,294.50 243.40,293.54 244.17,293.71 244.04,292.72 244.49,292.47 245.34,292.75 245.40,292.00 245.86,292.05 246.37,291.91 246.74,292.37 247.40,291.56 247.67,292.47 248.09,292.69 248.50,293.00 248.82,292.15 249.28,291.78 250.23,293.24 250.51,292.22 251.00,292.00 251.61,291.53 251.90,292.52 252.28,293.12 252.90,292.60 253.77,292.18 254.08,292.54 254.24,293.12 253.88,294.43 254.84,293.87 254.75,294.80 255.29,295.19 255.78,295.07 256.26,294.72 256.70,293.95 257.25,294.50 257.12,295.68 257.66,295.67 258.30,295.47 258.96,295.25 258.88,296.34 259.50,296.19 259.75,296.70 260.10,296.37 260.01,295.57 260.68,295.57 260.16,294.31 261.00,294.50 261.57,294.42 261.31,295.97 261.78,296.10 262.70,295.34 262.90,296.00 263.62,296.37 263.46,295.05 264.44,295.92 264.62,295.25 264.75,294.50 265.16,294.75 265.67,294.87 266.28,294.86 265.55,296.67 266.87,295.69 266.24,297.34 266.38,297.96 267.25,297.60 267.69,297.41 267.66,296.36 268.73,297.31 269.21,297.18 269.10,296.00 269.19,296.68 269.72,296.68 270.19,296.79 270.54,297.07 271.01,297.16 271.00,298.00 271.52,297.93 271.55,297.16 271.58,296.40 271.79,295.89 272.76,296.46 272.64,295.49 273.19,295.46 273.50,295.10 273.97,294.66 274.57,295.79 275.07,295.79 275.41,293.81 276.00,294.80 276.54,294.21 276.98,294.56 277.31,296.06 277.83,295.68 278.40,294.78 278.90,294.57 279.27,295.65 279.71,296.07 280.25,295.40 280.78,296.29 281.13,294.95 281.68,296.07 282.10,295.59 282.52,295.09 283.07,296.14 283.38,294.44 283.93,295.46 284.26,294.00 284.73,294.13 285.25,294.80 285.91,295.48 285.91,293.86 286.65,294.82 286.98,294.32 287.53,294.65 287.67,293.49 288.07,293.26 288.46,292.99 289.00,293.25 288.89,294.23 289.51,294.14 289.43,295.09 289.82,295.33 291.00,294.43 290.90,295.40 291.14,295.88 291.99,295.57 292.37,295.87 292.10,297.00 292.12,295.88 293.27,297.06 293.62,296.59 294.07,296.35 294.04,295.12 294.60,295.10 294.87,295.63 295.08,296.26 295.86,295.84 296.05,296.51 296.50,296.70 296.43,295.88 296.53,295.28 297.04,295.19 298.10,295.78 297.97,294.88 298.70,295.06 298.39,293.95 298.44,293.28 299.00,293.25 298.99,294.09 299.26,294.52 300.51,293.51 300.07,294.97 301.05,294.36 300.90,295.40 301.01,294.39 302.04,295.66 301.79,293.74 302.36,293.88 303.37,295.12 303.40,293.90 303.93,293.85 304.54,293.31 305.02,293.54 305.49,293.82 305.90,294.50 306.54,294.54 306.20,293.05 307.46,294.07 307.25,292.77 307.75,292.60 307.73,293.80 308.20,294.01 309.19,293.16 309.65,293.40 309.85,294.14 310.25,294.50 309.95,293.53 310.91,293.95 310.33,292.67 310.53,292.24 312.04,293.26 311.37,291.88 312.00,291.93 312.10,291.40 312.60,291.41 313.13,291.24 313.70,290.82 313.87,292.77 314.50,292.00 314.76,293.15 315.23,293.30 316.11,291.62 316.40,292.60 316.36,291.73 317.16,291.95 317.92,292.11 317.69,291.00 318.17,290.81 318.25,290.10 318.77,290.46 319.30,289.57 319.82,290.19 320.35,289.68 320.88,289.54 321.40,290.10 322.04,289.35 322.39,289.92 322.50,291.56 323.20,290.56 323.54,291.14 323.99,291.26 324.50,291.10 325.09,292.01 325.51,290.74 326.02,290.50 326.54,290.49 327.05,290.41 327.60,290.75 328.16,291.41 328.62,291.42 328.89,290.04 329.35,290.02 329.86,290.38 330.32,290.36 330.75,290.10 331.21,290.27 331.61,289.46 332.03,288.92 332.51,289.37 332.94,288.95 333.46,289.96 333.90,289.80 333.65,288.70 333.96,288.27 334.97,288.69 334.83,287.72 335.40,287.60 335.68,287.25 335.65,286.67 335.96,286.35 335.72,285.62 336.03,285.29 336.32,284.94 336.03,284.19 336.40,283.90 337.15,284.71 337.05,282.76 337.91,283.92 338.50,284.19 338.60,282.90 338.48,283.85 339.44,283.34 340.02,283.35 339.78,284.45 340.10,284.80 339.69,285.86 340.85,285.38 340.17,286.70 341.52,286.03 340.58,287.60 342.12,286.75 341.92,287.61 341.25,288.91 341.62,289.21 342.30,289.20 343.14,289.45 343.32,288.92 343.45,288.35 343.63,287.84 343.18,286.59 343.90,286.70 344.00,286.14 343.77,285.29 344.83,285.60 344.96,285.07 344.52,284.02 345.10,283.90 344.92,283.29 345.52,283.14 345.51,282.62 345.44,282.07 345.51,281.61 345.77,281.25 345.61,280.65 345.65,280.17 345.70,279.69 345.73,279.20 345.67,278.66 346.11,278.41 346.10,277.90 346.42,277.43 346.97,277.45 347.30,277.00 347.69,277.27 347.67,277.85 347.94,278.21 348.09,278.66 348.16,279.17 347.98,279.87 348.37,280.14 348.51,280.60 348.60,281.10 349.06,280.85 348.83,279.78 348.82,278.96 349.84,279.39 350.10,278.90 350.27,278.44 350.66,278.18 350.50,277.45 351.05,277.31 351.29,276.91 350.67,275.82 351.25,275.70 351.71,275.53 352.17,275.34 352.49,274.59 353.06,274.87 353.60,275.05 354.25,275.70 354.50,274.60 355.33,275.13 355.03,273.52 355.81,273.95 355.56,272.43 355.97,272.16 356.83,272.74 357.20,272.40 357.98,272.73 357.36,271.07 358.44,271.81 358.89,271.67 358.46,270.28 359.25,270.61 359.75,270.54 359.44,269.32 359.90,269.20 360.46,269.12 360.78,268.77 360.86,268.12 361.50,268.14 361.83,267.79 362.19,267.49 361.92,266.43 362.10,265.90 362.07,264.92 362.52,264.71 362.84,264.29 363.62,264.60 364.20,264.60 364.25,263.75 363.96,262.57 365.10,263.28 365.46,262.95 365.28,261.91 365.81,261.81 365.65,260.80 366.40,261.00 366.99,261.12 366.49,259.48 367.93,260.96 368.05,260.31 368.00,259.40 368.54,259.53 368.80,258.53 369.40,258.90 369.22,259.50 369.25,259.98 369.78,260.18 369.47,260.85 369.49,261.33 369.65,261.74 369.68,262.21 369.89,262.60 369.67,263.22 369.70,263.70 370.10,263.97 369.91,264.57 370.18,264.91 370.20,265.40 370.16,264.91 370.21,264.47 370.20,264.00 370.36,263.61 370.39,263.15 370.26,262.63 370.37,262.21 370.36,261.74 370.33,261.25 370.38,260.81 370.39,260.35 370.50,259.94 370.39,259.42 370.50,259.00 370.58,258.51 370.76,258.08 370.83,257.58 371.07,257.20 371.20,256.74 371.37,256.32 371.40,255.78 371.55,255.34 371.73,254.91 371.83,254.43 372.00,254.00" fill="none" stroke="#000" stroke-width="2" stroke-linejoin="round" shape-rendering="crispEdges"/><path d="M396.9,257.5v-3.1M422.6,272.4v2.7M434.1,279.1v3.2M434.9,277.0v-3.1M446.5,281.7v-2.5M447.0,281.7v-2.2M449.2,282.7v-2.3M460.8,283.8v2.0M467.4,285.4v2.3M477.7,287.5v2.3M478.7,287.2v2.3M487.3,300.0v-2.6M487.7,301.8v2.5M487.8,300.4v-2.5M489.6,294.1v2.6M493.0,288.6v2.8M494.1,291.0v-1.9M514.3,281.0v-2.7M517.1,280.6v2.4M517.1,279.3v-2.4M522.5,278.5v2.2M525.5,278.4v2.9M525.5,276.6v2.6M527.3,277.6v2.7M543.9,269.2v2.6M547.5,267.2v-2.6M548.2,266.6v2.5M548.0,265.7v-3.0" stroke="#000" stroke-width="1" fill="none" shape-rendering="crispEdges"/><polyline points="396.00,254.00 395.82,254.64 395.92,255.08 396.58,255.17 396.66,255.63 396.29,256.39 396.45,256.80 396.59,257.22 396.92,257.52 396.83,258.09 397.00,258.50 397.24,259.10 397.65,259.42 398.56,258.92 398.50,260.00 398.99,259.78 399.48,259.64 400.03,260.46 400.57,261.12 401.00,259.80 402.01,260.39 402.00,259.00 402.25,259.48 402.70,259.70 403.27,259.76 403.25,260.60 404.21,260.07 404.54,260.43 404.24,261.66 404.50,262.10 404.92,261.52 405.45,261.55 406.17,262.74 406.51,261.69 407.00,261.50 407.08,262.03 407.80,262.00 408.34,262.13 408.01,263.02 408.51,263.18 408.05,264.17 408.25,264.60 407.74,265.87 408.48,265.67 409.48,265.17 408.65,266.82 409.50,266.50 409.30,267.41 409.64,267.68 409.63,268.36 410.10,268.49 410.75,268.40 411.42,268.37 410.86,267.29 412.10,267.75 412.25,267.27 411.07,265.66 412.25,266.07 412.00,265.25 411.86,266.01 412.48,266.02 412.58,266.55 412.85,266.90 412.35,268.01 413.25,267.75 413.38,268.25 413.31,268.89 413.73,269.19 413.53,269.92 413.90,270.25 413.62,271.41 414.57,271.01 414.73,271.63 414.52,272.70 415.11,272.75 415.75,272.75 416.09,272.37 416.11,271.46 416.60,271.32 417.44,271.73 417.11,270.27 418.42,271.45 418.25,270.25 418.90,270.23 418.26,271.85 419.45,271.15 418.81,272.77 419.49,272.72 420.10,272.75 420.23,272.32 420.37,271.89 420.58,271.51 420.67,271.05 420.64,270.49 420.70,270.01 421.02,269.71 421.40,269.47 421.35,268.89 421.40,268.40 421.73,268.73 421.33,269.48 421.46,269.93 421.41,270.48 421.93,270.71 421.65,271.39 422.15,271.62 421.84,272.32 422.00,272.75 422.60,272.41 423.06,272.51 422.94,274.28 423.99,272.64 424.07,273.85 424.50,274.00 425.00,274.92 425.50,273.34 426.00,273.25 426.50,274.99 427.00,274.00 427.50,274.14 427.59,275.12 428.77,273.91 428.82,274.96 429.44,274.85 429.50,275.90 429.55,276.62 430.71,275.92 429.74,277.95 431.39,276.61 431.00,277.90 431.29,278.64 432.20,277.06 432.49,277.81 432.57,279.36 433.44,277.91 433.86,278.15 434.10,279.10 434.31,278.73 434.21,278.17 434.09,277.59 434.78,277.53 434.35,276.74 434.37,276.26 434.75,276.00 434.97,276.43 434.93,277.05 434.98,277.60 435.49,277.83 435.48,278.43 435.50,279.00 434.94,277.80 435.86,277.96 436.60,277.97 436.78,277.45 436.60,276.60 436.16,277.66 436.77,277.70 436.87,278.22 437.24,278.49 437.68,278.68 438.14,278.86 437.92,279.71 438.47,279.80 438.50,280.40 439.10,279.93 439.46,280.62 439.78,281.43 440.50,280.42 440.81,281.28 441.35,281.13 441.78,281.47 442.25,281.60 442.79,281.12 443.10,282.49 443.70,281.46 444.10,282.09 444.61,281.88 445.15,281.32 445.52,282.26 446.00,282.25 446.51,281.74 446.97,281.66 447.43,281.69 447.87,281.95 448.33,281.90 448.71,282.82 449.18,282.68 449.57,283.49 450.03,283.47 450.47,283.63 451.00,282.90 451.50,282.47 452.00,282.81 452.50,282.50 453.00,282.90 453.44,283.10 453.89,283.21 454.32,283.54 454.79,283.45 455.31,282.79 455.74,283.10 456.18,283.32 456.70,282.55 457.15,282.65 457.56,283.30 458.00,283.50 458.56,283.00 458.85,284.08 459.43,283.43 459.93,283.33 460.36,283.57 460.80,283.76 461.26,283.85 461.63,284.44 462.10,284.47 462.60,284.34 463.00,284.75 463.35,285.19 464.01,284.80 464.07,286.05 464.46,286.37 465.02,286.26 465.61,286.07 466.00,286.40 466.50,286.34 467.01,286.37 467.42,285.45 467.99,285.95 468.50,286.00 468.84,286.33 469.44,286.17 469.86,286.36 469.71,287.60 470.38,287.32 470.63,287.83 471.00,288.10 470.95,288.97 471.53,288.96 472.12,288.93 471.84,290.14 472.67,289.76 473.28,289.69 473.03,290.86 473.50,291.00 473.54,290.14 474.06,290.04 474.84,290.36 475.07,289.79 474.90,288.60 475.60,288.80 476.00,288.50 476.36,288.09 476.82,287.91 477.07,287.24 477.72,287.49 477.81,286.48 478.50,286.80 478.68,287.20 478.74,287.68 478.62,288.27 479.05,288.51 478.88,289.13 479.19,289.45 479.15,289.99 479.31,290.40 479.38,290.88 479.36,291.40 479.60,291.77 479.80,292.15 479.75,292.70 480.01,293.06 480.14,293.50 479.96,294.16 480.15,294.56 480.14,295.09 480.36,295.48 480.73,295.76 480.60,296.38 480.67,296.86 480.80,297.30 481.00,297.70 481.04,298.15 481.14,298.58 481.14,299.06 481.04,299.58 481.29,299.93 481.23,300.43 481.29,300.88 481.15,301.43 481.24,301.86 481.23,302.34 481.31,302.77 481.56,303.12 481.63,303.56 481.57,304.07 481.70,304.47 481.67,304.96 481.62,305.47 481.56,305.97 481.73,306.36 481.68,306.86 482.00,307.17 481.94,307.68 481.73,308.26 482.11,308.54 482.04,309.05 482.22,309.44 482.25,309.90 481.97,310.52 481.98,310.99 482.15,311.38 482.25,311.80 482.48,312.21 482.51,312.75 482.62,313.24 482.54,313.84 482.70,314.30 482.81,313.88 482.76,313.38 482.83,312.94 482.71,312.40 482.92,312.03 483.12,311.66 483.08,311.17 482.86,310.58 483.07,310.21 483.18,309.79 483.05,309.25 483.33,308.92 483.20,308.38 483.34,307.97 483.26,307.46 483.53,307.12 483.49,306.62 483.45,306.12 483.32,305.58 483.50,305.20 483.53,304.73 483.43,304.19 483.71,303.86 483.88,303.46 483.66,302.86 483.84,302.47 483.89,302.01 483.92,301.54 484.09,301.15 484.24,300.75 484.20,300.24 484.17,299.74 484.42,299.39 484.23,298.80 484.45,298.44 484.47,297.96 484.57,297.53 484.66,297.09 484.47,296.50 484.68,296.14 484.66,295.63 484.75,295.20 484.88,294.77 485.07,294.38 485.00,293.84 484.82,293.24 485.07,292.88 485.23,292.47 485.36,292.04 485.33,291.53 485.46,291.10 485.22,290.46 485.65,290.20 485.63,289.69 485.65,289.20 485.83,288.81 485.89,288.34 485.65,287.70 485.99,287.40 486.04,286.92 486.00,286.40 486.15,286.79 485.96,287.35 486.05,287.77 486.23,288.14 486.02,288.71 486.31,289.03 486.16,289.57 486.25,289.99 486.35,290.40 486.26,290.91 486.33,291.34 486.46,291.74 486.19,292.34 486.40,292.70 486.63,293.06 486.72,293.50 486.60,294.06 486.53,294.60 486.66,295.01 486.69,295.49 486.86,295.88 486.85,296.38 487.05,296.76 487.14,297.20 487.11,297.71 487.36,298.05 487.41,298.52 487.21,299.13 487.50,299.45 487.34,300.04 487.39,300.50 487.61,300.87 487.57,301.38 487.70,301.80 487.88,301.41 487.99,300.97 487.78,300.35 487.86,299.90 488.02,299.50 488.12,299.06 488.13,298.57 488.09,298.05 488.38,297.72 488.61,297.36 488.50,296.80 488.58,296.25 488.96,296.01 489.02,295.45 489.29,295.09 489.93,295.11 489.58,294.13 490.14,294.06 490.20,293.50 490.36,293.07 490.60,292.71 491.16,292.64 490.48,291.45 491.43,291.73 491.07,290.83 491.60,290.74 491.93,290.46 491.96,289.91 491.88,289.26 492.51,289.26 491.92,288.15 492.66,288.24 492.70,287.70 492.98,288.02 493.01,288.56 492.85,289.27 493.07,289.64 493.42,289.90 493.92,290.03 494.17,290.37 494.11,290.99 494.52,291.21 494.64,291.67 494.10,292.70 494.75,292.70 495.33,292.83 494.77,293.92 495.41,294.01 495.61,294.47 495.83,294.90 496.26,295.16 496.00,296.00 496.11,295.51 495.96,294.81 496.40,294.59 496.40,294.01 497.19,294.06 497.37,293.63 497.02,292.77 497.38,292.48 497.85,292.27 497.36,291.31 497.70,291.00 497.95,291.35 497.99,291.83 498.10,292.26 498.00,292.83 498.21,293.20 498.31,293.64 498.23,294.20 498.54,294.50 498.41,295.09 498.57,295.49 498.75,295.88 498.68,296.43 498.90,296.80 499.10,297.22 499.05,297.84 499.17,298.32 499.48,298.67 499.55,299.19 499.60,299.73 499.82,300.14 499.96,300.60 500.20,301.00 500.45,300.64 500.58,300.20 500.62,299.70 500.82,299.31 500.67,298.67 500.90,298.30 501.03,297.86 501.02,297.33 501.14,296.88 501.17,296.37 501.40,296.00 501.66,295.66 501.52,295.07 501.65,294.65 501.90,294.31 501.71,293.69 502.10,293.43 501.86,292.78 501.91,292.31 502.12,291.94 502.21,291.50 502.51,291.19 502.59,290.73 502.63,290.26 502.59,289.73 502.70,289.30 502.99,288.94 502.95,288.20 503.77,288.42 503.59,287.54 503.74,287.02 504.33,286.99 504.12,286.06 504.52,285.82 505.36,286.06 505.20,285.20 505.41,284.39 505.85,284.24 506.30,284.11 506.74,283.97 507.24,284.00 507.70,283.90 508.21,283.56 508.66,283.76 509.15,283.67 509.62,283.71 510.04,284.36 510.55,283.98 511.00,284.30 511.17,283.74 511.81,283.76 511.44,282.56 511.72,282.14 512.82,282.70 512.70,281.80 513.06,281.46 513.69,281.90 513.69,280.50 514.35,281.01 514.96,281.40 515.04,280.25 515.72,280.84 516.03,280.34 516.30,279.74 517.09,280.64 517.12,279.32 517.58,279.26 518.00,279.10 518.47,279.28 518.87,278.62 519.41,279.59 519.82,279.05 520.27,278.97 520.71,278.82 521.24,279.64 521.69,279.59 522.11,279.24 522.50,278.50 522.93,278.24 523.37,277.99 523.88,278.03 524.09,276.94 524.58,276.89 525.47,278.41 525.50,276.58 526.35,277.95 526.68,277.29 527.25,277.57 527.50,276.60 527.65,275.61 528.21,275.82 528.94,276.53 528.86,274.86 529.34,274.83 529.91,275.07 530.21,274.54 530.61,274.28 531.36,275.04 531.41,273.76 532.38,275.18 532.50,274.10 533.03,274.22 533.19,272.90 534.06,274.36 534.19,272.93 534.76,273.22 535.26,273.20 535.51,272.23 536.14,272.76 536.38,271.75 536.90,271.84 537.50,272.25 538.16,272.88 538.57,272.53 538.87,271.79 539.41,271.93 539.96,272.13 540.05,270.55 540.68,271.06 540.96,270.20 541.40,270.00 541.86,269.82 542.50,270.40 542.67,269.64 542.94,269.12 543.44,269.16 543.95,269.22 544.51,269.41 545.08,269.59 545.49,269.43 545.74,268.85 545.97,268.23 546.66,268.72 546.48,267.13 546.82,266.79 547.50,267.25 548.15,267.31 548.22,266.65 548.03,265.66 548.50,265.50 548.70,265.00 549.14,264.79 549.50,264.50 549.63,263.99 549.81,263.54 550.52,263.62 550.75,263.22 550.66,262.49 550.80,262.00 550.96,261.47 550.92,260.76 551.74,260.80 551.60,260.00 552.06,260.48 552.71,260.24 553.20,260.60 553.68,260.51 554.13,260.31 554.58,260.09 555.00,259.80 555.54,259.62 556.00,260.03 556.52,259.92 557.00,260.20" fill="none" stroke="#000" stroke-width="2" stroke-linejoin="round" shape-rendering="crispEdges"/></g>
<rect x="72" y="258" width="497" height="1" fill="#000"/>
<rect x="72" y="315" width="497" height="1" fill="#000"/>
<rect x="72" y="258" width="1" height="58" fill="#000"/>
<rect x="568" y="258" width="1" height="58" fill="#000"/>
<rect x="72" y="316" width="1" height="4" fill="#000"/>
<rect x="92" y="316" width="1" height="8" fill="#000"/>
<rect x="113" y="316" width="1" height="4" fill="#000"/>
<rect x="134" y="316" width="1" height="4" fill="#000"/>
<rect x="154" y="316" width="1" height="4" fill="#000"/>
<rect x="175" y="316" width="1" height="4" fill="#000"/>
<rect x="196" y="316" width="1" height="4" fill="#000"/>
<rect x="216" y="316" width="1" height="8" fill="#000"/>
<rect x="237" y="316" width="1" height="4" fill="#000"/>
<rect x="258" y="316" width="1" height="4" fill="#000"/>
<rect x="278" y="316" width="1" height="4" fill="#000"/>
<rect x="299" y="316" width="1" height="4" fill="#000"/>
<rect x="320" y="316" width="1" height="4" fill="#000"/>
<rect x="340" y="316" width="1" height="8" fill="#000"/>
<rect x="361" y="316" width="1" height="4" fill="#000"/>
<rect x="382" y="316" width="1" height="4" fill="#000"/>
<rect x="402" y="316" width="1" height="4" fill="#000"/>
<rect x="423" y="316" width="1" height="4" fill="#000"/>
<rect x="444" y="316" width="1" height="4" fill="#000"/>
<rect x="464" y="316" width="1" height="8" fill="#000"/>
<rect x="485" y="316" width="1" height="4" fill="#000"/>
<rect x="506" y="316" width="1" height="4" fill="#000"/>
<rect x="526" y="316" width="1" height="4" fill="#000"/>
<rect x="547" y="316" width="1" height="4" fill="#000"/>
<rect x="568" y="316" width="1" height="4" fill="#000"/>
<text transform="translate(91.87,338.80) scale(1.15,1)" font-family="Liberation Sans, sans-serif" font-size="12.4" text-anchor="middle" xml:space="preserve" >00:00</text>
<text transform="translate(215.87,338.80) scale(1.15,1)" font-family="Liberation Sans, sans-serif" font-size="12.4" text-anchor="middle" xml:space="preserve" >06:00</text>
<text transform="translate(339.87,338.80) scale(1.15,1)" font-family="Liberation Sans, sans-serif" font-size="12.4" text-anchor="middle" xml:space="preserve" >12:00</text>
<text transform="translate(463.87,338.80) scale(1.15,1)" font-family="Liberation Sans, sans-serif" font-size="12.4" text-anchor="middle" xml:space="preserve" >18:00</text>
<text transform="translate(74.10,350.90) scale(1.133,1)" font-family="Liberation Sans, sans-serif" font-size="12.4" text-anchor="start" xml:space="preserve" >2014-03-08</text>
<rect x="64" y="268" width="8" height="1" fill="#000"/>
<rect x="68" y="261" width="4" height="1" fill="#000"/>
<rect x="68" y="258" width="4" height="1" fill="#000"/>
<text transform="translate(35.66,276.00) scale(1.15,1)" font-family="Liberation Sans, sans-serif" font-size="12.4" text-anchor="start" xml:space="preserve" >10</text>
<text transform="translate(52.43,270.00) scale(1.15,1)" font-family="Liberation Sans, sans-serif" font-size="12.4" text-anchor="start" xml:space="preserve" >6</text>
<rect x="64" y="289" width="8" height="1" fill="#000"/>
<rect x="68" y="282" width="4" height="1" fill="#000"/>
<rect x="68" y="279" width="4" height="1" fill="#000"/>
<rect x="68" y="276" width="4" height="1" fill="#000"/>
<rect x="68" y="274" width="4" height="1" fill="#000"/>
<rect x="68" y="272" width="4" height="1" fill="#000"/>
<rect x="68" y="271" width="4" height="1" fill="#000"/>
<rect x="68" y="270" width="4" height="1" fill="#000"/>
<rect x="68" y="269" width="4" height="1" fill="#000"/>
<text transform="translate(35.66,297.00) scale(1.15,1)" font-family="Liberation Sans, sans-serif" font-size="12.4" text-anchor="start" xml:space="preserve" >10</text>
<text transform="translate(52.43,291.00) scale(1.15,1)" font-family="Liberation Sans, sans-serif" font-size="12.4" text-anchor="start" xml:space="preserve" >5</text>
<rect x="64" y="310" width="8" height="1" fill="#000"/>
<rect x="68" y="303" width="4" height="1" fill="#000"/>
<rect x="68" y="300" width="4" height="1" fill="#000"/>
<rect x="68" y="297" width="4" height="1" fill="#000"/>
<rect x="68" y="295" width="4" height="1" fill="#000"/>
<rect x="68" y="293" width="4" height="1" fill="#000"/>
<rect x="68" y="292" width="4" height="1" fill="#000"/>
<rect x="68" y="291" width="4" height="1" fill="#000"/>
<rect x="68" y="290" width="4" height="1" fill="#000"/>
<text transform="translate(35.66,318.00) scale(1.15,1)" font-family="Liberation Sans, sans-serif" font-size="12.4" text-anchor="start" xml:space="preserve" >10</text>
<text transform="translate(52.43,312.00) scale(1.15,1)" font-family="Liberation Sans, sans-serif" font-size="12.4" text-anchor="start" xml:space="preserve" >4</text>
<rect x="68" y="314" width="4" height="1" fill="#000"/>
<rect x="68" y="313" width="4" height="1" fill="#000"/>
<rect x="68" y="312" width="4" height="1" fill="#000"/>
<rect x="68" y="311" width="4" height="1" fill="#000"/>
<rect x="452.5" y="261.5" width="107" height="21" rx="2" fill="#fff" fill-opacity="0.55" stroke="#000" stroke-width="1" shape-rendering="geometricPrecision"/>
<line x1="457" y1="269.4" x2="468.8" y2="273.6" stroke="#000" stroke-width="1.25" shape-rendering="geometricPrecision"/>
<text transform="translate(472.93,275.80) scale(1.1545,1)" font-family="Liberation Sans, sans-serif" font-size="12.4" text-anchor="start" xml:space="preserve" >density*1000</text>
<g clip-path="url(#c3)"><path d="M94.7,415.7v1.8M100.6,416.4v-2.2M123.2,416.1v2.0M125.5,416.2v1.9M137.1,416.1v-2.1M137.5,415.4v-1.9M144.4,414.3v1.6M150.3,413.7v2.1M151.6,413.4v2.1M160.8,409.6v1.8M169.0,404.6v1.9M173.0,396.2v-2.0M176.1,393.1v-2.1M176.6,387.7v-1.9M175.9,383.6v2.1" stroke="#000" stroke-width="1" fill="none" shape-rendering="crispEdges"/><polyline points="92.40,416.00 92.86,416.04 93.31,415.79 93.77,415.53 94.22,416.15 94.68,415.71 95.13,415.76 95.59,415.90 96.05,416.14 96.50,416.49 96.96,415.96 97.41,416.49 97.87,416.49 98.33,415.74 98.78,415.57 99.24,415.66 99.69,416.34 100.15,416.10 100.60,416.42 101.06,416.47 101.52,416.15 101.97,416.04 102.43,415.57 102.88,415.52 103.34,416.31 103.79,416.17 104.25,416.00 104.71,416.38 105.24,416.30 105.72,416.53 106.23,416.62 106.75,416.60 107.20,416.99 107.65,416.20 108.10,416.57 108.55,416.38 109.00,416.89 109.45,416.93 109.90,416.30 110.34,416.12 110.80,416.27 111.25,416.33 111.70,416.78 112.15,416.41 112.60,416.75 113.05,416.29 113.50,416.50 113.95,416.16 114.40,416.61 114.85,416.47 115.30,416.81 115.76,416.89 116.20,416.45 116.64,415.99 117.11,416.85 117.56,416.85 118.00,416.40 118.50,416.29 119.00,416.23 119.55,416.59 119.97,415.84 120.50,416.00 120.97,415.78 121.41,416.24 121.87,416.23 122.33,416.27 122.78,416.43 123.25,416.13 123.71,416.06 124.18,415.89 124.63,415.89 125.09,416.07 125.54,416.15 125.99,416.48 126.45,416.38 126.92,416.29 127.38,416.18 127.83,416.45 128.30,416.22 128.74,416.66 129.20,416.52 129.66,416.59 130.13,416.29 130.58,416.46 131.03,416.68 131.49,416.94 131.96,416.53 132.42,416.34 132.87,416.73 133.34,416.18 133.80,416.41 134.25,416.60 134.65,416.03 135.20,416.44 135.62,416.04 136.11,416.07 136.64,416.35 137.08,416.10 137.46,415.40 138.00,415.75 138.46,415.61 138.88,415.10 139.44,415.83 139.87,415.42 140.39,415.69 140.78,415.03 141.32,415.50 141.75,415.10 141.99,414.41 142.76,414.60 143.00,413.90 143.45,413.79 143.91,413.47 144.36,414.32 144.82,414.24 145.27,413.59 145.73,413.98 146.18,413.88 146.64,413.54 147.09,413.82 147.55,414.38 148.00,413.90 148.44,413.72 148.93,414.04 149.39,413.99 149.84,413.94 150.28,413.72 150.77,413.96 151.17,413.32 151.63,413.40 152.09,413.31 152.51,412.89 153.00,413.25 153.50,413.11 154.05,413.27 154.51,412.94 154.94,412.38 155.50,412.60 155.83,412.13 156.33,412.18 156.61,411.57 157.06,411.47 157.67,411.87 158.00,411.40 158.04,410.62 158.35,410.20 158.69,409.82 159.28,409.75 159.20,408.82 159.90,408.90 160.26,409.44 160.79,409.58 161.15,410.12 161.75,410.10 162.31,410.35 162.80,410.16 163.25,409.76 163.71,409.35 164.25,409.50 164.64,409.18 164.57,408.30 164.94,407.95 165.66,408.06 165.88,407.53 166.10,407.00 166.90,407.00 166.73,406.21 167.25,406.11 167.62,405.85 167.41,405.03 168.10,405.08 167.72,404.10 167.94,403.70 168.44,403.57 168.75,403.25 169.09,403.57 168.57,404.35 169.02,404.60 169.23,404.99 168.63,405.82 168.68,406.29 168.81,406.72 169.61,406.78 169.49,407.35 169.72,407.72 169.09,408.57 169.40,408.90 169.42,408.43 169.08,407.76 170.05,407.82 169.15,406.84 169.16,406.37 170.22,406.48 169.74,405.73 170.30,405.56 170.03,404.93 169.50,404.16 170.00,403.96 170.44,403.73 169.48,402.71 170.59,402.85 170.04,402.07 170.33,401.75 170.11,401.14 170.87,401.09 170.46,400.38 170.47,399.91 170.60,399.50 170.59,398.35 171.57,399.47 171.44,398.06 172.22,398.72 172.50,398.25 171.95,397.08 172.31,396.81 173.33,397.20 173.00,396.24 173.71,396.32 174.08,396.06 173.73,395.09 174.25,394.97 174.40,394.50 174.41,393.90 173.99,392.89 175.62,393.85 175.26,392.89 176.08,393.07 175.60,392.00 175.95,391.71 176.00,391.25 174.94,390.17 176.10,390.33 175.74,389.64 175.45,388.99 175.14,388.32 175.34,387.95 175.13,387.35 176.57,387.67 176.25,387.00 176.19,386.42 175.59,385.48 176.75,385.75 177.62,385.82 177.86,385.45 175.90,383.56 177.34,384.02 177.44,383.56 177.22,382.87 177.08,382.24 177.50,382.00 177.63,381.51 177.56,380.82 177.88,380.51 177.61,379.63 178.98,380.34 178.75,379.50 179.73,379.64 180.12,379.38 178.78,377.92 178.55,377.23 178.72,376.81 178.26,375.96 179.96,376.60 178.79,375.26 179.78,375.41 180.78,375.57 180.00,374.50 180.37,374.21 180.41,373.67 180.70,373.32 180.63,372.72 181.02,372.44 180.88,371.78 180.54,370.98 181.00,370.75 181.50,370.75 182.00,370.75 182.50,370.75 182.97,370.78 183.44,370.81 183.91,370.84 184.38,370.88 184.84,370.91 185.31,370.94 185.78,370.97 186.25,371.00" fill="none" stroke="#000" stroke-width="2" stroke-linejoin="round" shape-rendering="crispEdges"/><path d="M213.6,373.7v1.7M214.9,375.9v2.2M216.9,384.5v1.9M221.2,398.2v1.9M222.1,398.6v-2.1M230.7,414.0v1.6M246.4,416.0v-1.8M254.6,416.1v2.2M275.5,416.9v1.8M278.6,417.3v1.7M284.5,416.7v-1.7M286.8,417.0v1.7M296.8,416.2v-1.8M299.5,417.0v-2.3M301.5,416.5v1.8M318.4,416.0v-2.2M330.7,415.4v-1.7M333.0,415.8v-1.6M334.8,415.7v1.8M336.1,414.5v1.9M338.5,414.3v-2.3M339.1,414.1v2.0M341.5,415.8v-2.3M344.5,414.4v2.3M356.8,407.1v2.2M362.5,396.1v1.9M362.8,394.5v1.8M365.9,376.3v-2.0" stroke="#000" stroke-width="1" fill="none" shape-rendering="crispEdges"/><polyline points="213.50,365.50 213.78,365.84 213.77,366.33 213.66,366.87 213.55,367.40 213.86,367.73 213.91,368.19 213.88,368.68 213.66,369.28 214.00,369.59 213.74,370.20 213.81,370.65 214.11,370.98 213.95,371.54 214.00,372.00 214.14,372.41 214.25,372.83 213.60,373.71 214.79,373.48 214.95,373.88 213.88,375.00 214.62,375.05 214.95,375.35 214.85,375.89 214.88,376.36 214.22,377.25 215.22,377.14 215.28,377.59 215.00,378.25 214.93,378.85 215.16,379.23 214.31,380.41 214.73,380.65 216.03,380.22 216.53,380.39 215.14,381.98 214.91,382.71 217.35,381.42 215.79,383.14 215.60,383.83 216.26,383.88 217.44,383.54 216.90,384.50 216.32,385.48 216.61,385.80 218.02,385.30 217.10,386.53 218.21,386.25 218.74,386.40 218.20,387.35 218.33,387.80 218.32,388.35 217.90,389.20 217.63,389.95 217.50,390.59 217.62,391.05 218.75,390.75 217.90,391.98 218.46,392.09 219.57,391.77 219.97,392.02 219.25,393.14 219.55,393.47 219.45,394.09 220.68,393.69 220.63,394.28 219.47,395.75 220.19,395.74 220.18,396.31 221.35,395.94 220.98,396.79 220.28,397.90 220.86,398.00 221.25,398.25 220.73,399.38 222.11,398.65 221.94,399.44 221.66,400.33 222.37,400.26 222.10,401.14 222.63,401.25 223.42,401.09 223.65,401.49 222.72,403.02 224.02,402.37 223.75,403.25 224.40,403.14 224.62,403.71 224.62,404.64 224.86,405.20 225.56,405.00 225.89,405.39 226.25,405.75 226.38,406.51 227.17,406.19 227.46,406.69 227.64,407.37 228.10,407.60 228.11,408.14 228.85,408.11 228.91,408.61 229.03,409.07 228.62,409.94 228.81,410.34 228.71,410.96 229.05,411.25 229.61,411.35 229.35,412.11 229.34,412.67 229.96,412.73 230.00,413.25 230.60,413.30 230.70,413.99 231.07,414.34 231.45,414.68 231.84,415.00 231.90,415.75 232.45,415.43 232.92,416.21 233.49,415.45 233.97,416.06 234.50,416.00 234.43,415.34 234.54,414.81 235.09,414.57 235.00,413.90 235.26,414.33 235.47,414.80 235.41,415.45 235.50,416.00 235.95,416.19 236.40,416.02 236.85,416.36 237.30,415.90 237.75,416.02 238.20,416.22 238.65,415.96 239.10,416.22 239.55,415.97 240.00,416.00 240.46,415.65 240.92,415.65 241.36,416.32 241.81,416.30 242.26,416.51 242.72,416.27 243.18,416.18 243.64,415.78 244.08,416.48 244.55,415.76 245.00,416.07 245.46,415.80 245.91,416.06 246.37,416.00 246.82,416.13 247.27,416.43 247.73,416.27 248.19,415.99 248.63,416.54 249.09,416.51 249.54,416.61 250.01,415.83 250.45,416.43 250.90,416.72 251.37,416.10 251.82,416.06 252.27,416.68 252.73,416.25 253.18,416.30 253.63,416.73 254.09,416.31 254.55,416.13 255.01,416.16 255.46,416.31 255.90,416.68 256.37,416.36 256.81,416.78 257.28,416.08 257.73,416.28 258.18,416.67 258.64,416.54 259.09,416.57 259.54,417.02 260.00,416.60 260.46,416.39 260.92,416.31 261.37,416.17 261.82,416.64 262.28,416.47 262.73,416.66 263.19,416.20 263.65,416.21 264.09,416.60 264.54,416.99 265.00,416.55 265.45,417.18 265.91,416.86 266.37,416.69 266.81,417.08 267.28,416.55 267.73,416.94 268.17,417.19 268.64,416.90 269.09,416.69 269.55,416.48 270.00,416.90 270.46,416.97 270.91,416.58 271.36,416.76 271.82,416.92 272.28,417.32 272.73,417.05 273.18,416.89 273.64,417.22 274.09,416.67 274.54,416.74 275.00,417.03 275.45,416.90 275.91,416.56 276.36,416.75 276.82,417.16 277.27,416.57 277.73,417.03 278.18,416.37 278.64,417.27 279.09,416.99 279.54,416.63 280.00,417.28 280.46,417.09 280.91,416.35 281.36,416.53 281.82,416.77 282.28,417.28 282.72,416.41 283.18,416.32 283.64,416.58 284.09,416.30 284.54,416.66 285.00,416.79 285.45,416.69 285.91,416.38 286.36,416.26 286.82,417.03 287.27,416.67 287.73,416.70 288.18,416.70 288.64,416.90 289.09,417.11 289.55,417.03 290.00,416.70 290.46,416.92 290.91,416.53 291.36,416.36 291.82,416.27 292.28,417.04 292.72,416.23 293.18,416.74 293.64,417.07 294.09,416.48 294.54,416.54 295.00,416.57 295.46,417.09 295.91,416.83 296.37,416.98 296.81,416.17 297.27,416.86 297.73,416.57 298.18,416.52 298.64,416.93 299.09,416.84 299.55,417.01 300.00,416.60 300.51,416.81 301.01,416.96 301.50,416.45 302.00,416.56 302.51,416.76 303.00,416.40 303.49,416.06 304.00,416.40 304.48,416.40 304.98,416.60 305.45,416.52 305.83,415.70 306.33,415.88 306.78,415.64 307.26,415.67 307.75,415.75 308.20,416.24 308.69,415.73 309.16,415.66 309.64,415.65 310.10,415.85 310.55,416.11 311.04,415.81 311.50,416.00 311.95,415.68 312.41,415.72 312.87,415.75 313.33,416.39 313.78,415.65 314.24,416.23 314.69,415.57 315.16,416.25 315.61,415.72 316.07,416.23 316.52,415.88 316.98,415.52 317.43,415.53 317.90,416.23 318.35,415.97 318.81,415.91 319.26,415.77 319.72,416.10 320.18,415.89 320.63,415.47 321.09,416.00 321.55,415.71 322.01,416.24 322.46,415.93 322.92,416.15 323.37,415.50 323.83,416.08 324.29,415.98 324.75,416.21 325.20,416.24 325.66,415.90 326.12,415.94 326.57,416.11 327.03,415.60 327.49,415.88 327.94,416.11 328.40,415.92 328.86,415.86 329.32,416.17 329.77,416.28 330.22,415.56 330.68,415.37 331.14,415.91 331.59,415.44 332.06,416.25 332.51,415.75 332.97,415.81 333.43,416.09 333.88,416.13 334.33,415.40 334.79,415.71 335.25,415.75 335.46,415.17 335.95,415.07 336.15,414.48 336.86,414.77 336.97,414.02 337.34,413.73 337.75,413.50 338.02,414.12 338.47,414.29 339.06,414.10 339.42,414.50 339.77,414.90 340.36,414.72 340.80,414.92 340.95,415.82 341.50,415.75 341.81,415.23 342.40,415.53 342.82,415.35 343.20,415.00 343.54,414.57 344.00,414.50 344.51,414.38 344.78,413.94 344.69,413.00 345.49,413.27 345.65,412.68 345.74,411.99 345.97,411.49 346.50,411.40 347.08,411.04 347.44,412.01 347.93,412.17 348.53,411.70 349.00,412.00 349.17,411.33 349.45,410.86 350.02,410.84 350.30,410.36 350.49,409.74 351.01,409.64 351.50,409.50 352.07,409.78 352.30,408.59 352.88,408.90 353.38,408.90 353.73,408.24 354.16,407.90 354.64,407.79 355.25,408.25 355.33,407.45 356.34,408.13 356.61,407.64 356.85,407.09 357.37,407.00 357.25,405.87 357.75,405.75 357.81,405.01 358.74,405.40 358.79,404.64 359.43,404.66 359.14,403.47 359.60,403.25 359.65,402.69 360.22,402.55 360.62,402.27 359.78,401.00 360.07,400.63 359.86,399.87 360.83,400.04 360.90,399.50 361.72,399.58 361.34,398.68 360.84,397.67 361.88,397.94 361.99,397.43 361.25,396.23 362.78,396.90 362.52,396.09 362.40,395.40 362.30,394.72 362.75,394.50 362.22,393.60 362.92,393.55 362.83,392.95 362.68,392.32 363.61,392.43 363.76,392.00 364.48,391.97 364.64,391.54 363.70,390.36 364.35,390.28 364.00,389.50 363.84,388.85 364.08,388.49 364.49,388.24 365.56,388.44 363.51,386.49 364.60,386.71 364.41,386.05 365.64,386.37 366.12,386.17 365.07,384.91 365.25,384.50 364.25,383.46 365.59,383.67 365.62,383.18 365.90,382.82 366.19,382.47 365.46,381.57 365.72,381.20 366.32,381.01 364.52,379.54 365.10,379.34 366.27,379.46 367.05,379.37 365.90,378.25 366.28,377.97 365.82,377.26 366.39,377.08 365.91,376.35 366.08,375.97 365.91,375.40 366.28,375.12 366.17,374.58 366.43,374.25 366.68,373.90 366.10,373.12 366.54,372.87 366.55,372.40 366.34,371.82 366.21,371.27 366.60,371.00" fill="none" stroke="#000" stroke-width="2" stroke-linejoin="round" shape-rendering="crispEdges"/><path d="M408.5,389.9v2.3M411.0,391.1v-1.9M422.0,403.3v-1.9M423.9,408.0v1.7M424.6,408.8v-1.6M425.4,409.7v-2.3M427.2,409.7v-2.0M431.4,410.6v-2.2M434.8,410.4v-1.8M436.8,411.7v-2.2M443.5,412.4v-1.7M449.2,413.1v2.2M451.9,413.8v2.1M461.9,414.6v2.0M462.8,414.6v2.2M480.4,416.0v2.1M498.4,415.9v2.2M501.9,415.2v1.8M511.5,413.6v1.9M514.2,412.6v-2.2M518.1,412.5v-2.3M522.8,411.1v2.0M532.0,407.7v1.7M534.7,407.5v-2.1M550.9,388.3v-2.3M551.7,383.0v1.8" stroke="#000" stroke-width="1" fill="none" shape-rendering="crispEdges"/><polyline points="407.60,386.00 407.70,386.50 407.80,387.00 407.90,387.50 408.00,388.00 407.79,388.65 408.13,389.00 408.04,389.58 408.51,389.85 408.31,390.50 408.16,391.12 408.42,391.51 408.50,392.00 408.45,392.72 408.68,393.19 409.17,393.44 409.57,393.77 409.50,394.50 409.57,395.12 410.09,395.33 410.35,395.78 410.18,396.60 410.50,397.00 410.73,396.63 410.78,396.16 410.89,395.73 410.52,395.04 410.49,394.54 410.56,394.08 411.11,393.88 410.64,393.14 410.71,392.69 410.67,392.18 410.73,391.72 410.77,391.24 411.01,390.88 410.93,390.35 411.20,390.00 411.36,390.40 411.00,391.08 411.53,391.29 411.16,391.97 411.25,392.41 411.40,392.82 411.43,393.29 411.36,393.82 411.51,394.23 411.76,394.59 411.74,395.08 411.82,395.53 411.77,396.04 411.50,396.67 411.80,397.00 411.98,397.47 412.29,397.85 412.23,398.49 412.21,399.11 412.50,399.50 412.60,399.95 412.55,400.48 412.90,400.78 412.98,401.24 412.79,401.86 413.12,402.17 413.00,402.75 413.29,403.07 413.41,403.54 413.69,403.87 413.95,404.22 414.13,404.64 413.74,405.54 414.06,405.84 414.08,406.39 414.50,406.60 415.00,406.73 415.43,407.23 416.00,407.00 416.60,407.01 417.03,406.56 417.50,406.20 417.61,405.75 417.70,405.29 417.70,404.77 417.85,404.35 418.09,403.98 417.98,403.39 418.34,403.11 418.30,402.56 418.40,402.10 418.42,402.57 418.39,403.08 418.52,403.48 418.78,403.82 418.80,404.29 418.95,404.69 419.00,405.15 418.72,405.79 418.91,406.17 419.00,406.60 419.43,407.11 419.96,407.09 420.50,407.00 420.50,406.51 420.80,406.20 420.85,405.74 420.75,405.19 420.67,404.66 420.83,404.26 420.83,403.77 420.98,403.37 420.93,402.85 421.26,402.55 421.44,402.17 421.17,401.53 421.49,401.22 421.47,400.72 421.50,400.25 421.55,400.70 421.41,401.25 421.69,401.57 421.55,402.12 421.93,402.39 421.59,403.05 421.96,403.33 422.07,403.74 421.77,404.38 421.88,404.80 421.95,405.23 421.96,405.70 422.15,406.08 422.29,406.48 422.20,407.00 422.66,407.17 422.85,407.91 423.24,408.22 423.89,408.02 424.22,408.46 424.60,408.80 425.06,408.88 425.35,409.65 426.07,408.55 426.26,409.83 426.88,409.19 427.23,409.74 427.79,409.32 428.24,409.41 428.45,410.60 429.00,410.25 429.44,410.43 429.72,411.19 430.21,411.23 430.69,411.27 431.35,410.64 431.63,411.43 432.10,411.50 432.76,411.63 432.82,410.79 432.89,409.97 433.32,409.73 434.22,410.25 434.58,409.89 434.60,409.00 434.77,409.40 434.84,409.85 434.82,410.37 434.97,410.77 435.15,411.16 435.04,411.74 435.25,412.10 435.74,412.30 436.26,412.06 436.80,411.73 437.25,412.35 437.75,412.40 438.22,412.71 438.73,412.09 439.21,412.01 439.66,412.76 440.14,413.01 440.64,412.42 441.12,412.56 441.59,412.77 442.08,412.66 442.57,412.25 443.05,412.44 443.53,412.40 444.00,412.75 444.58,412.62 445.11,412.70 445.53,413.20 446.00,413.50 446.45,413.21 446.91,413.86 447.36,413.31 447.82,413.98 448.27,413.83 448.73,413.26 449.18,413.14 449.64,413.58 450.09,413.47 450.55,413.54 451.00,413.11 451.45,413.53 451.91,413.77 452.36,413.44 452.82,413.24 453.27,413.94 453.73,413.29 454.18,414.02 454.64,413.70 455.09,412.98 455.55,413.45 456.00,413.50 456.51,413.24 456.86,413.99 457.36,413.72 457.86,413.49 458.18,414.44 458.65,414.39 459.13,414.31 459.59,414.37 460.11,413.98 460.50,414.50 460.93,415.01 461.42,414.36 461.86,414.61 462.32,414.60 462.77,414.61 463.25,414.18 463.67,415.08 464.14,414.71 464.60,414.64 465.03,415.13 465.48,415.16 465.95,415.05 466.39,415.26 466.87,414.73 467.33,414.51 467.78,414.78 468.22,415.07 468.67,415.28 469.13,415.25 469.59,415.17 470.04,415.17 470.50,415.10 470.96,415.31 471.43,415.26 471.94,414.74 472.37,415.31 472.86,415.08 473.34,414.92 473.77,415.50 474.23,415.77 474.73,415.25 475.18,415.68 475.65,415.67 476.11,415.77 476.57,416.00 477.05,415.86 477.56,415.29 478.00,415.75 478.45,415.97 478.96,415.81 479.42,415.99 479.85,416.35 480.39,415.96 480.79,416.51 481.21,416.92 481.75,416.60 482.11,416.01 482.78,416.56 483.21,416.24 483.60,415.76 484.16,415.91 484.45,415.08 484.94,414.97 485.50,415.10 485.85,415.74 486.41,415.54 486.98,415.27 487.46,415.39 487.86,415.86 488.30,416.12 488.67,416.71 489.25,416.40 489.71,416.09 490.17,416.54 490.63,416.34 491.09,416.46 491.55,416.84 492.01,416.02 492.47,416.74 492.93,416.63 493.39,416.17 493.86,416.02 494.32,416.65 494.78,416.75 495.24,416.25 495.70,416.04 496.16,416.46 496.62,416.57 497.08,416.26 497.54,416.31 498.00,416.40 498.43,415.88 498.94,415.79 499.45,415.74 500.05,416.13 500.50,415.75 500.86,415.22 501.34,415.12 501.85,415.21 502.25,414.80 502.71,414.66 503.28,414.97 503.62,414.32 504.15,414.46 504.49,413.84 505.05,414.09 505.50,413.90 505.97,414.04 506.40,413.73 506.83,413.41 507.27,413.18 507.75,413.37 508.22,413.45 508.64,413.07 509.13,413.35 509.59,413.38 510.00,412.85 510.50,413.25 510.99,413.34 511.50,413.58 511.93,413.22 512.37,412.87 512.89,413.21 513.37,413.25 513.84,413.18 514.25,412.60 514.76,413.06 515.23,412.81 515.73,412.96 516.19,412.71 516.64,412.17 517.11,411.90 517.61,412.26 518.11,412.47 518.56,411.92 519.05,411.98 519.51,411.60 519.98,411.51 520.50,412.00 520.91,411.57 521.53,412.09 521.79,411.01 522.28,410.96 522.82,411.10 523.44,411.63 523.70,410.56 524.25,410.75 524.87,410.39 525.32,410.59 525.69,411.13 526.10,411.50 526.13,410.67 526.88,411.01 526.82,410.04 527.23,409.84 527.48,409.37 528.10,409.50 528.49,409.07 528.90,408.69 529.37,408.68 529.82,408.60 530.28,408.54 530.83,408.99 531.22,408.50 531.62,408.14 532.02,407.73 532.70,408.87 533.14,408.74 533.50,408.10 534.09,408.61 534.42,408.11 534.74,407.54 535.13,407.22 535.50,406.86 536.02,407.08 536.43,406.90 537.06,407.56 537.19,406.24 537.81,406.88 538.25,406.78 538.64,406.51 539.00,406.10 539.46,406.07 539.54,404.94 540.00,404.90 540.61,405.29 541.06,405.22 541.67,405.62 541.97,405.11 542.03,403.93 542.38,403.60 543.00,404.00 543.60,404.08 543.20,402.56 544.42,403.64 543.94,401.99 544.79,402.47 545.38,402.55 544.93,400.94 545.70,401.30 545.52,400.28 546.46,400.74 546.87,400.50 546.28,398.94 547.16,399.32 547.88,399.49 547.80,398.60 548.44,398.55 548.07,397.54 547.67,396.51 548.86,396.98 548.94,396.41 549.10,395.90 549.14,395.36 549.62,395.20 549.77,394.76 549.77,394.17 550.07,393.85 550.26,393.45 550.83,393.37 550.50,392.50 551.18,392.38 549.67,390.92 551.36,391.41 550.29,390.22 550.76,389.97 550.39,389.20 551.10,389.10 550.86,388.27 551.23,387.92 551.52,387.52 551.80,387.10 551.78,386.65 551.77,386.19 551.75,385.74 551.74,385.28 551.72,384.83 551.71,384.37 551.69,383.92 551.68,383.46 551.66,383.00 551.65,382.55 551.63,382.10 551.62,381.64 551.61,381.19 551.59,380.73 551.58,380.27 551.56,379.82 551.54,379.37 551.53,378.91 551.51,378.45 551.50,378.00 551.50,377.53 551.50,377.06 551.50,376.58 551.50,376.11 551.50,375.64 551.50,375.17 551.50,374.69 551.50,374.22 551.50,373.75 551.50,373.28 551.50,372.81 551.50,372.33 551.50,371.86 551.50,371.39 551.50,370.92 551.50,370.44 551.50,369.97 551.50,369.50" fill="none" stroke="#000" stroke-width="2" stroke-linejoin="round" shape-rendering="crispEdges"/><polyline points="397.60,366.00 397.60,372.50 398.60,374.50" fill="none" stroke="#000" stroke-width="1" shape-rendering="crispEdges"/><polyline points="398.40,366.50 398.40,372.00" fill="none" stroke="#000" stroke-width="1" shape-rendering="crispEdges"/><polyline points="555.00,370.00 555.30,384.00" fill="none" stroke="#000" stroke-width="1" shape-rendering="crispEdges"/><polyline points="556.50,371.00 556.30,382.00" fill="none" stroke="#000" stroke-width="1" shape-rendering="crispEdges"/><polyline points="554.00,372.00 554.20,386.00" fill="none" stroke="#000" stroke-width="1" shape-rendering="crispEdges"/><polyline points="553.00,376.00 553.00,387.00" fill="none" stroke="#000" stroke-width="1" shape-rendering="crispEdges"/><polygon points="365.90,369.90 369.10,369.90 369.10,388.50 365.90,388.50" fill="#000" fill-opacity="1" shape-rendering="crispEdges"/><polygon points="365.90,369.60 371.80,369.60 371.80,370.80 365.90,370.80" fill="#000" fill-opacity="1" shape-rendering="crispEdges"/><polygon points="369.60,369.90 370.80,369.90 370.80,394.50 369.60,394.50" fill="#000" fill-opacity="1" shape-rendering="crispEdges"/><polygon points="400.00,365.00 402.60,365.00 402.60,375.50 398.00,375.50 398.00,370.00 400.00,370.00" fill="#000" fill-opacity="1" shape-rendering="crispEdges"/><polygon points="402.60,366.00 404.50,368.50 405.50,374.50 407.30,378.25 409.80,382.00 409.80,388.00 402.60,388.00" fill="#000" fill-opacity="0.8" shape-rendering="crispEdges"/><polygon points="407.10,387.75 410.00,387.75 410.00,393.40 413.20,393.40 413.20,399.60 409.00,399.60 409.00,393.70 407.10,393.70" fill="#000" fill-opacity="1" shape-rendering="crispEdges"/></g>
<rect x="72" y="363" width="497" height="1" fill="#000"/>
<rect x="72" y="420" width="497" height="1" fill="#000"/>
<rect x="72" y="363" width="1" height="58" fill="#000"/>
<rect x="568" y="363" width="1" height="58" fill="#000"/>
<rect x="72" y="421" width="1" height="4" fill="#000"/>
<rect x="92" y="421" width="1" height="8" fill="#000"/>
<rect x="113" y="421" width="1" height="4" fill="#000"/>
<rect x="134" y="421" width="1" height="4" fill="#000"/>
<rect x="154" y="421" width="1" height="4" fill="#000"/>
<rect x="175" y="421" width="1" height="4" fill="#000"/>
<rect x="196" y="421" width="1" height="4" fill="#000"/>
<rect x="216" y="421" width="1" height="8" fill="#000"/>
<rect x="237" y="421" width="1" height="4" fill="#000"/>
<rect x="258" y="421" width="1" height="4" fill="#000"/>
<rect x="278" y="421" width="1" height="4" fill="#000"/>
<rect x="299" y="421" width="1" height="4" fill="#000"/>
<rect x="320" y="421" width="1" height="4" fill="#000"/>
<rect x="340" y="421" width="1" height="8" fill="#000"/>
<rect x="361" y="421" width="1" height="4" fill="#000"/>
<rect x="382" y="421" width="1" height="4" fill="#000"/>
<rect x="402" y="421" width="1" height="4" fill="#000"/>
<rect x="423" y="421" width="1" height="4" fill="#000"/>
<rect x="444" y="421" width="1" height="4" fill="#000"/>
<rect x="464" y="421" width="1" height="8" fill="#000"/>
<rect x="485" y="421" width="1" height="4" fill="#000"/>
<rect x="506" y="421" width="1" height="4" fill="#000"/>
<rect x="526" y="421" width="1" height="4" fill="#000"/>
<rect x="547" y="421" width="1" height="4" fill="#000"/>
<rect x="568" y="421" width="1" height="4" fill="#000"/>
<text transform="translate(91.87,443.80) scale(1.15,1)" font-family="Liberation Sans, sans-serif" font-size="12.4" text-anchor="middle" xml:space="preserve" >00:00</text>
<text transform="translate(215.87,443.80) scale(1.15,1)" font-family="Liberation Sans, sans-serif" font-size="12.4" text-anchor="middle" xml:space="preserve" >06:00</text>
<text transform="translate(339.87,443.80) scale(1.15,1)" font-family="Liberation Sans, sans-serif" font-size="12.4" text-anchor="middle" xml:space="preserve" >12:00</text>
<text transform="translate(463.87,443.80) scale(1.15,1)" font-family="Liberation Sans, sans-serif" font-size="12.4" text-anchor="middle" xml:space="preserve" >18:00</text>
<text transform="translate(74.10,455.90) scale(1.133,1)" font-family="Liberation Sans, sans-serif" font-size="12.4" text-anchor="start" xml:space="preserve" >2014-03-08</text>
<rect x="64" y="419" width="8" height="1" fill="#000"/>
<rect x="68" y="417" width="4" height="1" fill="#000"/>
<rect x="68" y="415" width="4" height="1" fill="#000"/>
<rect x="68" y="413" width="4" height="1" fill="#000"/>
<rect x="68" y="412" width="4" height="1" fill="#000"/>
<rect x="68" y="410" width="4" height="1" fill="#000"/>
<rect x="68" y="408" width="4" height="1" fill="#000"/>
<rect x="68" y="406" width="4" height="1" fill="#000"/>
<rect x="68" y="405" width="4" height="1" fill="#000"/>
<rect x="68" y="403" width="4" height="1" fill="#000"/>
<rect x="64" y="401" width="8" height="1" fill="#000"/>
<rect x="68" y="399" width="4" height="1" fill="#000"/>
<rect x="68" y="397" width="4" height="1" fill="#000"/>
<rect x="68" y="396" width="4" height="1" fill="#000"/>
<rect x="68" y="394" width="4" height="1" fill="#000"/>
<rect x="68" y="392" width="4" height="1" fill="#000"/>
<rect x="68" y="390" width="4" height="1" fill="#000"/>
<rect x="68" y="389" width="4" height="1" fill="#000"/>
<rect x="68" y="387" width="4" height="1" fill="#000"/>
<rect x="68" y="385" width="4" height="1" fill="#000"/>
<rect x="64" y="383" width="8" height="1" fill="#000"/>
<rect x="68" y="381" width="4" height="1" fill="#000"/>
<rect x="68" y="380" width="4" height="1" fill="#000"/>
<rect x="68" y="378" width="4" height="1" fill="#000"/>
<rect x="68" y="376" width="4" height="1" fill="#000"/>
<rect x="68" y="374" width="4" height="1" fill="#000"/>
<rect x="68" y="372" width="4" height="1" fill="#000"/>
<rect x="68" y="371" width="4" height="1" fill="#000"/>
<rect x="68" y="369" width="4" height="1" fill="#000"/>
<rect x="68" y="367" width="4" height="1" fill="#000"/>
<rect x="64" y="365" width="8" height="1" fill="#000"/>
<rect x="68" y="364" width="4" height="1" fill="#000"/>
<text transform="translate(59.77,423.90) scale(1.15,1)" font-family="Liberation Sans, sans-serif" font-size="12.4" text-anchor="end" xml:space="preserve" >0</text>
<text transform="translate(59.77,405.90) scale(1.15,1)" font-family="Liberation Sans, sans-serif" font-size="12.4" text-anchor="end" xml:space="preserve" >1000</text>
<text transform="translate(59.77,387.90) scale(1.15,1)" font-family="Liberation Sans, sans-serif" font-size="12.4" text-anchor="end" xml:space="preserve" >2000</text>
<text transform="translate(59.77,369.90) scale(1.15,1)" font-family="Liberation Sans, sans-serif" font-size="12.4" text-anchor="end" xml:space="preserve" >3000</text>
<rect x="402.5" y="366.5" width="157" height="21" rx="2" fill="#fff" fill-opacity="0.55" stroke="#000" stroke-width="1" shape-rendering="geometricPrecision"/>
<line x1="407" y1="374.4" x2="418.8" y2="378.6" stroke="#000" stroke-width="1.25" shape-rendering="geometricPrecision"/>
<text transform="translate(422.60,380.80) scale(1.1631,1)" font-family="Liberation Sans, sans-serif" font-size="12.4" text-anchor="start" xml:space="preserve" >100 cm**-3 + density</text>
</svg>
</body></html>
